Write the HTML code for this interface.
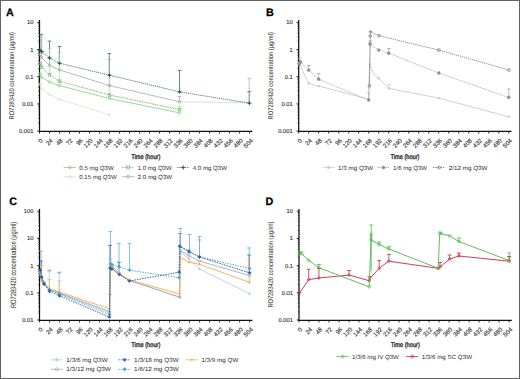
<!DOCTYPE html>
<html><head><meta charset="utf-8"><style>
html,body{margin:0;padding:0;background:#fff;}
body{width:520px;height:379px;overflow:hidden;font-family:"Liberation Sans", sans-serif;}
svg{display:block;text-rendering:geometricPrecision;}
</style></head><body>
<svg width="520" height="379" viewBox="0 0 520 379" font-family='"Liberation Sans", sans-serif'>
<rect x="0" y="0" width="520" height="379" fill="#fff"/>
<text x="6.0" y="16.0" font-size="10.8" font-weight="bold" fill="#000" stroke="#000" stroke-width="0.25">A</text>
<text x="266.0" y="16.0" font-size="10.8" font-weight="bold" fill="#000" stroke="#000" stroke-width="0.25">B</text>
<text x="9.2" y="204.9" font-size="10.8" font-weight="bold" fill="#000" stroke="#000" stroke-width="0.25">C</text>
<text x="265.6" y="204.9" font-size="10.8" font-weight="bold" fill="#000" stroke="#000" stroke-width="0.25">D</text>
<line x1="39.5" y1="20" x2="39.5" y2="131.7" stroke="#111" stroke-width="1.25"/>
<line x1="38.9" y1="131.4" x2="252.4" y2="131.4" stroke="#111" stroke-width="1.15"/>
<line x1="37.3" y1="22.3" x2="39.5" y2="22.3" stroke="#111" stroke-width="0.9"/>
<text x="33.5" y="24.3" font-size="5.8" text-anchor="end" fill="#383838" stroke="#383838" stroke-width="0.14">10</text>
<line x1="38.3" y1="41.31" x2="39.5" y2="41.31" stroke="#111" stroke-width="0.7"/>
<line x1="38.3" y1="36.52" x2="39.5" y2="36.52" stroke="#111" stroke-width="0.7"/>
<line x1="38.3" y1="33.12" x2="39.5" y2="33.12" stroke="#111" stroke-width="0.7"/>
<line x1="38.3" y1="30.49" x2="39.5" y2="30.49" stroke="#111" stroke-width="0.7"/>
<line x1="38.3" y1="28.33" x2="39.5" y2="28.33" stroke="#111" stroke-width="0.7"/>
<line x1="38.3" y1="26.51" x2="39.5" y2="26.51" stroke="#111" stroke-width="0.7"/>
<line x1="38.3" y1="24.94" x2="39.5" y2="24.94" stroke="#111" stroke-width="0.7"/>
<line x1="38.3" y1="23.54" x2="39.5" y2="23.54" stroke="#111" stroke-width="0.7"/>
<line x1="37.3" y1="49.5" x2="39.5" y2="49.5" stroke="#111" stroke-width="0.9"/>
<text x="33.5" y="51.5" font-size="5.8" text-anchor="end" fill="#383838" stroke="#383838" stroke-width="0.14">1</text>
<line x1="38.3" y1="68.51" x2="39.5" y2="68.51" stroke="#111" stroke-width="0.7"/>
<line x1="38.3" y1="63.72" x2="39.5" y2="63.72" stroke="#111" stroke-width="0.7"/>
<line x1="38.3" y1="60.32" x2="39.5" y2="60.32" stroke="#111" stroke-width="0.7"/>
<line x1="38.3" y1="57.69" x2="39.5" y2="57.69" stroke="#111" stroke-width="0.7"/>
<line x1="38.3" y1="55.53" x2="39.5" y2="55.53" stroke="#111" stroke-width="0.7"/>
<line x1="38.3" y1="53.71" x2="39.5" y2="53.71" stroke="#111" stroke-width="0.7"/>
<line x1="38.3" y1="52.14" x2="39.5" y2="52.14" stroke="#111" stroke-width="0.7"/>
<line x1="38.3" y1="50.74" x2="39.5" y2="50.74" stroke="#111" stroke-width="0.7"/>
<line x1="37.3" y1="76.7" x2="39.5" y2="76.7" stroke="#111" stroke-width="0.9"/>
<text x="33.5" y="78.7" font-size="5.8" text-anchor="end" fill="#383838" stroke="#383838" stroke-width="0.14">0.1</text>
<line x1="38.3" y1="95.71" x2="39.5" y2="95.71" stroke="#111" stroke-width="0.7"/>
<line x1="38.3" y1="90.92" x2="39.5" y2="90.92" stroke="#111" stroke-width="0.7"/>
<line x1="38.3" y1="87.52" x2="39.5" y2="87.52" stroke="#111" stroke-width="0.7"/>
<line x1="38.3" y1="84.89" x2="39.5" y2="84.89" stroke="#111" stroke-width="0.7"/>
<line x1="38.3" y1="82.73" x2="39.5" y2="82.73" stroke="#111" stroke-width="0.7"/>
<line x1="38.3" y1="80.91" x2="39.5" y2="80.91" stroke="#111" stroke-width="0.7"/>
<line x1="38.3" y1="79.34" x2="39.5" y2="79.34" stroke="#111" stroke-width="0.7"/>
<line x1="38.3" y1="77.94" x2="39.5" y2="77.94" stroke="#111" stroke-width="0.7"/>
<line x1="37.3" y1="103.9" x2="39.5" y2="103.9" stroke="#111" stroke-width="0.9"/>
<text x="33.5" y="105.9" font-size="5.8" text-anchor="end" fill="#383838" stroke="#383838" stroke-width="0.14">0.01</text>
<line x1="38.3" y1="122.91" x2="39.5" y2="122.91" stroke="#111" stroke-width="0.7"/>
<line x1="38.3" y1="118.12" x2="39.5" y2="118.12" stroke="#111" stroke-width="0.7"/>
<line x1="38.3" y1="114.72" x2="39.5" y2="114.72" stroke="#111" stroke-width="0.7"/>
<line x1="38.3" y1="112.09" x2="39.5" y2="112.09" stroke="#111" stroke-width="0.7"/>
<line x1="38.3" y1="109.93" x2="39.5" y2="109.93" stroke="#111" stroke-width="0.7"/>
<line x1="38.3" y1="108.11" x2="39.5" y2="108.11" stroke="#111" stroke-width="0.7"/>
<line x1="38.3" y1="106.54" x2="39.5" y2="106.54" stroke="#111" stroke-width="0.7"/>
<line x1="38.3" y1="105.14" x2="39.5" y2="105.14" stroke="#111" stroke-width="0.7"/>
<line x1="37.3" y1="131.1" x2="39.5" y2="131.1" stroke="#111" stroke-width="0.9"/>
<text x="33.5" y="133.1" font-size="5.8" text-anchor="end" fill="#383838" stroke="#383838" stroke-width="0.14">0.001</text>
<line x1="39.5" y1="131.1" x2="39.5" y2="133.5" stroke="#111" stroke-width="0.9"/>
<text x="43.2" y="141" font-size="6.1" text-anchor="end" fill="#383838" stroke="#383838" stroke-width="0.14" transform="rotate(-45 43.2 141)">0</text>
<line x1="44.5" y1="131.1" x2="44.5" y2="132.3" stroke="#111" stroke-width="0.7"/>
<line x1="49.5" y1="131.1" x2="49.5" y2="133.5" stroke="#111" stroke-width="0.9"/>
<text x="53.2" y="141" font-size="6.1" text-anchor="end" fill="#383838" stroke="#383838" stroke-width="0.14" transform="rotate(-45 53.2 141)">24</text>
<line x1="54.51" y1="131.1" x2="54.51" y2="132.3" stroke="#111" stroke-width="0.7"/>
<line x1="59.51" y1="131.1" x2="59.51" y2="133.5" stroke="#111" stroke-width="0.9"/>
<text x="63.21" y="141" font-size="6.1" text-anchor="end" fill="#383838" stroke="#383838" stroke-width="0.14" transform="rotate(-45 63.21 141)">48</text>
<line x1="64.51" y1="131.1" x2="64.51" y2="132.3" stroke="#111" stroke-width="0.7"/>
<line x1="69.51" y1="131.1" x2="69.51" y2="133.5" stroke="#111" stroke-width="0.9"/>
<text x="73.21" y="141" font-size="6.1" text-anchor="end" fill="#383838" stroke="#383838" stroke-width="0.14" transform="rotate(-45 73.21 141)">72</text>
<line x1="74.52" y1="131.1" x2="74.52" y2="132.3" stroke="#111" stroke-width="0.7"/>
<line x1="79.52" y1="131.1" x2="79.52" y2="133.5" stroke="#111" stroke-width="0.9"/>
<text x="83.22" y="141" font-size="6.1" text-anchor="end" fill="#383838" stroke="#383838" stroke-width="0.14" transform="rotate(-45 83.22 141)">96</text>
<line x1="84.52" y1="131.1" x2="84.52" y2="132.3" stroke="#111" stroke-width="0.7"/>
<line x1="89.52" y1="131.1" x2="89.52" y2="133.5" stroke="#111" stroke-width="0.9"/>
<text x="93.22" y="141" font-size="6.1" text-anchor="end" fill="#383838" stroke="#383838" stroke-width="0.14" transform="rotate(-45 93.22 141)">120</text>
<line x1="94.53" y1="131.1" x2="94.53" y2="132.3" stroke="#111" stroke-width="0.7"/>
<line x1="99.53" y1="131.1" x2="99.53" y2="133.5" stroke="#111" stroke-width="0.9"/>
<text x="103.23" y="141" font-size="6.1" text-anchor="end" fill="#383838" stroke="#383838" stroke-width="0.14" transform="rotate(-45 103.23 141)">144</text>
<line x1="104.53" y1="131.1" x2="104.53" y2="132.3" stroke="#111" stroke-width="0.7"/>
<line x1="109.53" y1="131.1" x2="109.53" y2="133.5" stroke="#111" stroke-width="0.9"/>
<text x="113.23" y="141" font-size="6.1" text-anchor="end" fill="#383838" stroke="#383838" stroke-width="0.14" transform="rotate(-45 113.23 141)">168</text>
<line x1="114.54" y1="131.1" x2="114.54" y2="132.3" stroke="#111" stroke-width="0.7"/>
<line x1="119.54" y1="131.1" x2="119.54" y2="133.5" stroke="#111" stroke-width="0.9"/>
<text x="123.24" y="141" font-size="6.1" text-anchor="end" fill="#383838" stroke="#383838" stroke-width="0.14" transform="rotate(-45 123.24 141)">192</text>
<line x1="124.54" y1="131.1" x2="124.54" y2="132.3" stroke="#111" stroke-width="0.7"/>
<line x1="129.54" y1="131.1" x2="129.54" y2="133.5" stroke="#111" stroke-width="0.9"/>
<text x="133.24" y="141" font-size="6.1" text-anchor="end" fill="#383838" stroke="#383838" stroke-width="0.14" transform="rotate(-45 133.24 141)">216</text>
<line x1="134.55" y1="131.1" x2="134.55" y2="132.3" stroke="#111" stroke-width="0.7"/>
<line x1="139.55" y1="131.1" x2="139.55" y2="133.5" stroke="#111" stroke-width="0.9"/>
<text x="143.25" y="141" font-size="6.1" text-anchor="end" fill="#383838" stroke="#383838" stroke-width="0.14" transform="rotate(-45 143.25 141)">240</text>
<line x1="144.55" y1="131.1" x2="144.55" y2="132.3" stroke="#111" stroke-width="0.7"/>
<line x1="149.55" y1="131.1" x2="149.55" y2="133.5" stroke="#111" stroke-width="0.9"/>
<text x="153.25" y="141" font-size="6.1" text-anchor="end" fill="#383838" stroke="#383838" stroke-width="0.14" transform="rotate(-45 153.25 141)">264</text>
<line x1="154.55" y1="131.1" x2="154.55" y2="132.3" stroke="#111" stroke-width="0.7"/>
<line x1="159.56" y1="131.1" x2="159.56" y2="133.5" stroke="#111" stroke-width="0.9"/>
<text x="163.26" y="141" font-size="6.1" text-anchor="end" fill="#383838" stroke="#383838" stroke-width="0.14" transform="rotate(-45 163.26 141)">288</text>
<line x1="164.56" y1="131.1" x2="164.56" y2="132.3" stroke="#111" stroke-width="0.7"/>
<line x1="169.56" y1="131.1" x2="169.56" y2="133.5" stroke="#111" stroke-width="0.9"/>
<text x="173.26" y="141" font-size="6.1" text-anchor="end" fill="#383838" stroke="#383838" stroke-width="0.14" transform="rotate(-45 173.26 141)">312</text>
<line x1="174.56" y1="131.1" x2="174.56" y2="132.3" stroke="#111" stroke-width="0.7"/>
<line x1="179.57" y1="131.1" x2="179.57" y2="133.5" stroke="#111" stroke-width="0.9"/>
<text x="183.27" y="141" font-size="6.1" text-anchor="end" fill="#383838" stroke="#383838" stroke-width="0.14" transform="rotate(-45 183.27 141)">336</text>
<line x1="184.57" y1="131.1" x2="184.57" y2="132.3" stroke="#111" stroke-width="0.7"/>
<line x1="189.57" y1="131.1" x2="189.57" y2="133.5" stroke="#111" stroke-width="0.9"/>
<text x="193.27" y="141" font-size="6.1" text-anchor="end" fill="#383838" stroke="#383838" stroke-width="0.14" transform="rotate(-45 193.27 141)">360</text>
<line x1="194.57" y1="131.1" x2="194.57" y2="132.3" stroke="#111" stroke-width="0.7"/>
<line x1="199.58" y1="131.1" x2="199.58" y2="133.5" stroke="#111" stroke-width="0.9"/>
<text x="203.28" y="141" font-size="6.1" text-anchor="end" fill="#383838" stroke="#383838" stroke-width="0.14" transform="rotate(-45 203.28 141)">384</text>
<line x1="204.58" y1="131.1" x2="204.58" y2="132.3" stroke="#111" stroke-width="0.7"/>
<line x1="209.58" y1="131.1" x2="209.58" y2="133.5" stroke="#111" stroke-width="0.9"/>
<text x="213.28" y="141" font-size="6.1" text-anchor="end" fill="#383838" stroke="#383838" stroke-width="0.14" transform="rotate(-45 213.28 141)">408</text>
<line x1="214.58" y1="131.1" x2="214.58" y2="132.3" stroke="#111" stroke-width="0.7"/>
<line x1="219.59" y1="131.1" x2="219.59" y2="133.5" stroke="#111" stroke-width="0.9"/>
<text x="223.29" y="141" font-size="6.1" text-anchor="end" fill="#383838" stroke="#383838" stroke-width="0.14" transform="rotate(-45 223.29 141)">432</text>
<line x1="224.59" y1="131.1" x2="224.59" y2="132.3" stroke="#111" stroke-width="0.7"/>
<line x1="229.59" y1="131.1" x2="229.59" y2="133.5" stroke="#111" stroke-width="0.9"/>
<text x="233.29" y="141" font-size="6.1" text-anchor="end" fill="#383838" stroke="#383838" stroke-width="0.14" transform="rotate(-45 233.29 141)">456</text>
<line x1="234.59" y1="131.1" x2="234.59" y2="132.3" stroke="#111" stroke-width="0.7"/>
<line x1="239.6" y1="131.1" x2="239.6" y2="133.5" stroke="#111" stroke-width="0.9"/>
<text x="243.3" y="141" font-size="6.1" text-anchor="end" fill="#383838" stroke="#383838" stroke-width="0.14" transform="rotate(-45 243.3 141)">480</text>
<line x1="244.6" y1="131.1" x2="244.6" y2="132.3" stroke="#111" stroke-width="0.7"/>
<line x1="249.6" y1="131.1" x2="249.6" y2="133.5" stroke="#111" stroke-width="0.9"/>
<text x="253.3" y="141" font-size="6.1" text-anchor="end" fill="#383838" stroke="#383838" stroke-width="0.14" transform="rotate(-45 253.3 141)">504</text>
<text x="131.3" y="158.5" font-size="6.8" fill="#222" stroke="#222" stroke-width="0.32" textLength="29.0" lengthAdjust="spacingAndGlyphs">Time (hour)</text>
<text x="13.7" y="119.5" font-size="6.9" fill="#222" textLength="87.4" lengthAdjust="spacingAndGlyphs" transform="rotate(-90 13.7 119.5)">RO7283420 concentration (μg/ml)</text>
<line x1="298.7" y1="20" x2="298.7" y2="131.7" stroke="#111" stroke-width="1.25"/>
<line x1="298.1" y1="131.4" x2="511.6" y2="131.4" stroke="#111" stroke-width="1.15"/>
<line x1="296.5" y1="22.3" x2="298.7" y2="22.3" stroke="#111" stroke-width="0.9"/>
<text x="292.7" y="24.3" font-size="5.8" text-anchor="end" fill="#383838" stroke="#383838" stroke-width="0.14">10</text>
<line x1="297.5" y1="41.31" x2="298.7" y2="41.31" stroke="#111" stroke-width="0.7"/>
<line x1="297.5" y1="36.52" x2="298.7" y2="36.52" stroke="#111" stroke-width="0.7"/>
<line x1="297.5" y1="33.12" x2="298.7" y2="33.12" stroke="#111" stroke-width="0.7"/>
<line x1="297.5" y1="30.49" x2="298.7" y2="30.49" stroke="#111" stroke-width="0.7"/>
<line x1="297.5" y1="28.33" x2="298.7" y2="28.33" stroke="#111" stroke-width="0.7"/>
<line x1="297.5" y1="26.51" x2="298.7" y2="26.51" stroke="#111" stroke-width="0.7"/>
<line x1="297.5" y1="24.94" x2="298.7" y2="24.94" stroke="#111" stroke-width="0.7"/>
<line x1="297.5" y1="23.54" x2="298.7" y2="23.54" stroke="#111" stroke-width="0.7"/>
<line x1="296.5" y1="49.5" x2="298.7" y2="49.5" stroke="#111" stroke-width="0.9"/>
<text x="292.7" y="51.5" font-size="5.8" text-anchor="end" fill="#383838" stroke="#383838" stroke-width="0.14">1</text>
<line x1="297.5" y1="68.51" x2="298.7" y2="68.51" stroke="#111" stroke-width="0.7"/>
<line x1="297.5" y1="63.72" x2="298.7" y2="63.72" stroke="#111" stroke-width="0.7"/>
<line x1="297.5" y1="60.32" x2="298.7" y2="60.32" stroke="#111" stroke-width="0.7"/>
<line x1="297.5" y1="57.69" x2="298.7" y2="57.69" stroke="#111" stroke-width="0.7"/>
<line x1="297.5" y1="55.53" x2="298.7" y2="55.53" stroke="#111" stroke-width="0.7"/>
<line x1="297.5" y1="53.71" x2="298.7" y2="53.71" stroke="#111" stroke-width="0.7"/>
<line x1="297.5" y1="52.14" x2="298.7" y2="52.14" stroke="#111" stroke-width="0.7"/>
<line x1="297.5" y1="50.74" x2="298.7" y2="50.74" stroke="#111" stroke-width="0.7"/>
<line x1="296.5" y1="76.7" x2="298.7" y2="76.7" stroke="#111" stroke-width="0.9"/>
<text x="292.7" y="78.7" font-size="5.8" text-anchor="end" fill="#383838" stroke="#383838" stroke-width="0.14">0.1</text>
<line x1="297.5" y1="95.71" x2="298.7" y2="95.71" stroke="#111" stroke-width="0.7"/>
<line x1="297.5" y1="90.92" x2="298.7" y2="90.92" stroke="#111" stroke-width="0.7"/>
<line x1="297.5" y1="87.52" x2="298.7" y2="87.52" stroke="#111" stroke-width="0.7"/>
<line x1="297.5" y1="84.89" x2="298.7" y2="84.89" stroke="#111" stroke-width="0.7"/>
<line x1="297.5" y1="82.73" x2="298.7" y2="82.73" stroke="#111" stroke-width="0.7"/>
<line x1="297.5" y1="80.91" x2="298.7" y2="80.91" stroke="#111" stroke-width="0.7"/>
<line x1="297.5" y1="79.34" x2="298.7" y2="79.34" stroke="#111" stroke-width="0.7"/>
<line x1="297.5" y1="77.94" x2="298.7" y2="77.94" stroke="#111" stroke-width="0.7"/>
<line x1="296.5" y1="103.9" x2="298.7" y2="103.9" stroke="#111" stroke-width="0.9"/>
<text x="292.7" y="105.9" font-size="5.8" text-anchor="end" fill="#383838" stroke="#383838" stroke-width="0.14">0.01</text>
<line x1="297.5" y1="122.91" x2="298.7" y2="122.91" stroke="#111" stroke-width="0.7"/>
<line x1="297.5" y1="118.12" x2="298.7" y2="118.12" stroke="#111" stroke-width="0.7"/>
<line x1="297.5" y1="114.72" x2="298.7" y2="114.72" stroke="#111" stroke-width="0.7"/>
<line x1="297.5" y1="112.09" x2="298.7" y2="112.09" stroke="#111" stroke-width="0.7"/>
<line x1="297.5" y1="109.93" x2="298.7" y2="109.93" stroke="#111" stroke-width="0.7"/>
<line x1="297.5" y1="108.11" x2="298.7" y2="108.11" stroke="#111" stroke-width="0.7"/>
<line x1="297.5" y1="106.54" x2="298.7" y2="106.54" stroke="#111" stroke-width="0.7"/>
<line x1="297.5" y1="105.14" x2="298.7" y2="105.14" stroke="#111" stroke-width="0.7"/>
<line x1="296.5" y1="131.1" x2="298.7" y2="131.1" stroke="#111" stroke-width="0.9"/>
<text x="292.7" y="133.1" font-size="5.8" text-anchor="end" fill="#383838" stroke="#383838" stroke-width="0.14">0.001</text>
<line x1="298.7" y1="131.1" x2="298.7" y2="133.5" stroke="#111" stroke-width="0.9"/>
<text x="302.4" y="141" font-size="6.1" text-anchor="end" fill="#383838" stroke="#383838" stroke-width="0.14" transform="rotate(-45 302.4 141)">0</text>
<line x1="303.7" y1="131.1" x2="303.7" y2="132.3" stroke="#111" stroke-width="0.7"/>
<line x1="308.7" y1="131.1" x2="308.7" y2="133.5" stroke="#111" stroke-width="0.9"/>
<text x="312.4" y="141" font-size="6.1" text-anchor="end" fill="#383838" stroke="#383838" stroke-width="0.14" transform="rotate(-45 312.4 141)">24</text>
<line x1="313.71" y1="131.1" x2="313.71" y2="132.3" stroke="#111" stroke-width="0.7"/>
<line x1="318.71" y1="131.1" x2="318.71" y2="133.5" stroke="#111" stroke-width="0.9"/>
<text x="322.41" y="141" font-size="6.1" text-anchor="end" fill="#383838" stroke="#383838" stroke-width="0.14" transform="rotate(-45 322.41 141)">48</text>
<line x1="323.71" y1="131.1" x2="323.71" y2="132.3" stroke="#111" stroke-width="0.7"/>
<line x1="328.71" y1="131.1" x2="328.71" y2="133.5" stroke="#111" stroke-width="0.9"/>
<text x="332.41" y="141" font-size="6.1" text-anchor="end" fill="#383838" stroke="#383838" stroke-width="0.14" transform="rotate(-45 332.41 141)">72</text>
<line x1="333.72" y1="131.1" x2="333.72" y2="132.3" stroke="#111" stroke-width="0.7"/>
<line x1="338.72" y1="131.1" x2="338.72" y2="133.5" stroke="#111" stroke-width="0.9"/>
<text x="342.42" y="141" font-size="6.1" text-anchor="end" fill="#383838" stroke="#383838" stroke-width="0.14" transform="rotate(-45 342.42 141)">96</text>
<line x1="343.72" y1="131.1" x2="343.72" y2="132.3" stroke="#111" stroke-width="0.7"/>
<line x1="348.72" y1="131.1" x2="348.72" y2="133.5" stroke="#111" stroke-width="0.9"/>
<text x="352.42" y="141" font-size="6.1" text-anchor="end" fill="#383838" stroke="#383838" stroke-width="0.14" transform="rotate(-45 352.42 141)">120</text>
<line x1="353.73" y1="131.1" x2="353.73" y2="132.3" stroke="#111" stroke-width="0.7"/>
<line x1="358.73" y1="131.1" x2="358.73" y2="133.5" stroke="#111" stroke-width="0.9"/>
<text x="362.43" y="141" font-size="6.1" text-anchor="end" fill="#383838" stroke="#383838" stroke-width="0.14" transform="rotate(-45 362.43 141)">144</text>
<line x1="363.73" y1="131.1" x2="363.73" y2="132.3" stroke="#111" stroke-width="0.7"/>
<line x1="368.73" y1="131.1" x2="368.73" y2="133.5" stroke="#111" stroke-width="0.9"/>
<text x="372.43" y="141" font-size="6.1" text-anchor="end" fill="#383838" stroke="#383838" stroke-width="0.14" transform="rotate(-45 372.43 141)">168</text>
<line x1="373.74" y1="131.1" x2="373.74" y2="132.3" stroke="#111" stroke-width="0.7"/>
<line x1="378.74" y1="131.1" x2="378.74" y2="133.5" stroke="#111" stroke-width="0.9"/>
<text x="382.44" y="141" font-size="6.1" text-anchor="end" fill="#383838" stroke="#383838" stroke-width="0.14" transform="rotate(-45 382.44 141)">192</text>
<line x1="383.74" y1="131.1" x2="383.74" y2="132.3" stroke="#111" stroke-width="0.7"/>
<line x1="388.74" y1="131.1" x2="388.74" y2="133.5" stroke="#111" stroke-width="0.9"/>
<text x="392.44" y="141" font-size="6.1" text-anchor="end" fill="#383838" stroke="#383838" stroke-width="0.14" transform="rotate(-45 392.44 141)">216</text>
<line x1="393.75" y1="131.1" x2="393.75" y2="132.3" stroke="#111" stroke-width="0.7"/>
<line x1="398.75" y1="131.1" x2="398.75" y2="133.5" stroke="#111" stroke-width="0.9"/>
<text x="402.45" y="141" font-size="6.1" text-anchor="end" fill="#383838" stroke="#383838" stroke-width="0.14" transform="rotate(-45 402.45 141)">240</text>
<line x1="403.75" y1="131.1" x2="403.75" y2="132.3" stroke="#111" stroke-width="0.7"/>
<line x1="408.75" y1="131.1" x2="408.75" y2="133.5" stroke="#111" stroke-width="0.9"/>
<text x="412.45" y="141" font-size="6.1" text-anchor="end" fill="#383838" stroke="#383838" stroke-width="0.14" transform="rotate(-45 412.45 141)">264</text>
<line x1="413.75" y1="131.1" x2="413.75" y2="132.3" stroke="#111" stroke-width="0.7"/>
<line x1="418.76" y1="131.1" x2="418.76" y2="133.5" stroke="#111" stroke-width="0.9"/>
<text x="422.46" y="141" font-size="6.1" text-anchor="end" fill="#383838" stroke="#383838" stroke-width="0.14" transform="rotate(-45 422.46 141)">288</text>
<line x1="423.76" y1="131.1" x2="423.76" y2="132.3" stroke="#111" stroke-width="0.7"/>
<line x1="428.76" y1="131.1" x2="428.76" y2="133.5" stroke="#111" stroke-width="0.9"/>
<text x="432.46" y="141" font-size="6.1" text-anchor="end" fill="#383838" stroke="#383838" stroke-width="0.14" transform="rotate(-45 432.46 141)">312</text>
<line x1="433.76" y1="131.1" x2="433.76" y2="132.3" stroke="#111" stroke-width="0.7"/>
<line x1="438.77" y1="131.1" x2="438.77" y2="133.5" stroke="#111" stroke-width="0.9"/>
<text x="442.47" y="141" font-size="6.1" text-anchor="end" fill="#383838" stroke="#383838" stroke-width="0.14" transform="rotate(-45 442.47 141)">336</text>
<line x1="443.77" y1="131.1" x2="443.77" y2="132.3" stroke="#111" stroke-width="0.7"/>
<line x1="448.77" y1="131.1" x2="448.77" y2="133.5" stroke="#111" stroke-width="0.9"/>
<text x="452.47" y="141" font-size="6.1" text-anchor="end" fill="#383838" stroke="#383838" stroke-width="0.14" transform="rotate(-45 452.47 141)">360</text>
<line x1="453.77" y1="131.1" x2="453.77" y2="132.3" stroke="#111" stroke-width="0.7"/>
<line x1="458.78" y1="131.1" x2="458.78" y2="133.5" stroke="#111" stroke-width="0.9"/>
<text x="462.48" y="141" font-size="6.1" text-anchor="end" fill="#383838" stroke="#383838" stroke-width="0.14" transform="rotate(-45 462.48 141)">384</text>
<line x1="463.78" y1="131.1" x2="463.78" y2="132.3" stroke="#111" stroke-width="0.7"/>
<line x1="468.78" y1="131.1" x2="468.78" y2="133.5" stroke="#111" stroke-width="0.9"/>
<text x="472.48" y="141" font-size="6.1" text-anchor="end" fill="#383838" stroke="#383838" stroke-width="0.14" transform="rotate(-45 472.48 141)">408</text>
<line x1="473.78" y1="131.1" x2="473.78" y2="132.3" stroke="#111" stroke-width="0.7"/>
<line x1="478.79" y1="131.1" x2="478.79" y2="133.5" stroke="#111" stroke-width="0.9"/>
<text x="482.49" y="141" font-size="6.1" text-anchor="end" fill="#383838" stroke="#383838" stroke-width="0.14" transform="rotate(-45 482.49 141)">432</text>
<line x1="483.79" y1="131.1" x2="483.79" y2="132.3" stroke="#111" stroke-width="0.7"/>
<line x1="488.79" y1="131.1" x2="488.79" y2="133.5" stroke="#111" stroke-width="0.9"/>
<text x="492.49" y="141" font-size="6.1" text-anchor="end" fill="#383838" stroke="#383838" stroke-width="0.14" transform="rotate(-45 492.49 141)">456</text>
<line x1="493.79" y1="131.1" x2="493.79" y2="132.3" stroke="#111" stroke-width="0.7"/>
<line x1="498.8" y1="131.1" x2="498.8" y2="133.5" stroke="#111" stroke-width="0.9"/>
<text x="502.5" y="141" font-size="6.1" text-anchor="end" fill="#383838" stroke="#383838" stroke-width="0.14" transform="rotate(-45 502.5 141)">480</text>
<line x1="503.8" y1="131.1" x2="503.8" y2="132.3" stroke="#111" stroke-width="0.7"/>
<line x1="508.8" y1="131.1" x2="508.8" y2="133.5" stroke="#111" stroke-width="0.9"/>
<text x="512.5" y="141" font-size="6.1" text-anchor="end" fill="#383838" stroke="#383838" stroke-width="0.14" transform="rotate(-45 512.5 141)">504</text>
<text x="390.5" y="158.5" font-size="6.8" fill="#222" stroke="#222" stroke-width="0.32" textLength="29.0" lengthAdjust="spacingAndGlyphs">Time (hour)</text>
<text x="272.9" y="119.5" font-size="6.9" fill="#222" textLength="87.4" lengthAdjust="spacingAndGlyphs" transform="rotate(-90 272.9 119.5)">RO7283420 concentration (μg/ml)</text>
<line x1="39.5" y1="208.9" x2="39.5" y2="320.6" stroke="#111" stroke-width="1.25"/>
<line x1="38.9" y1="320.3" x2="252.4" y2="320.3" stroke="#111" stroke-width="1.15"/>
<line x1="37.3" y1="211.2" x2="39.5" y2="211.2" stroke="#111" stroke-width="0.9"/>
<text x="33.5" y="213.2" font-size="5.8" text-anchor="end" fill="#383838" stroke="#383838" stroke-width="0.14">100</text>
<line x1="38.3" y1="230.21" x2="39.5" y2="230.21" stroke="#111" stroke-width="0.7"/>
<line x1="38.3" y1="225.42" x2="39.5" y2="225.42" stroke="#111" stroke-width="0.7"/>
<line x1="38.3" y1="222.02" x2="39.5" y2="222.02" stroke="#111" stroke-width="0.7"/>
<line x1="38.3" y1="219.39" x2="39.5" y2="219.39" stroke="#111" stroke-width="0.7"/>
<line x1="38.3" y1="217.23" x2="39.5" y2="217.23" stroke="#111" stroke-width="0.7"/>
<line x1="38.3" y1="215.41" x2="39.5" y2="215.41" stroke="#111" stroke-width="0.7"/>
<line x1="38.3" y1="213.84" x2="39.5" y2="213.84" stroke="#111" stroke-width="0.7"/>
<line x1="38.3" y1="212.44" x2="39.5" y2="212.44" stroke="#111" stroke-width="0.7"/>
<line x1="37.3" y1="238.4" x2="39.5" y2="238.4" stroke="#111" stroke-width="0.9"/>
<text x="33.5" y="240.4" font-size="5.8" text-anchor="end" fill="#383838" stroke="#383838" stroke-width="0.14">10</text>
<line x1="38.3" y1="257.41" x2="39.5" y2="257.41" stroke="#111" stroke-width="0.7"/>
<line x1="38.3" y1="252.62" x2="39.5" y2="252.62" stroke="#111" stroke-width="0.7"/>
<line x1="38.3" y1="249.22" x2="39.5" y2="249.22" stroke="#111" stroke-width="0.7"/>
<line x1="38.3" y1="246.59" x2="39.5" y2="246.59" stroke="#111" stroke-width="0.7"/>
<line x1="38.3" y1="244.43" x2="39.5" y2="244.43" stroke="#111" stroke-width="0.7"/>
<line x1="38.3" y1="242.61" x2="39.5" y2="242.61" stroke="#111" stroke-width="0.7"/>
<line x1="38.3" y1="241.04" x2="39.5" y2="241.04" stroke="#111" stroke-width="0.7"/>
<line x1="38.3" y1="239.64" x2="39.5" y2="239.64" stroke="#111" stroke-width="0.7"/>
<line x1="37.3" y1="265.6" x2="39.5" y2="265.6" stroke="#111" stroke-width="0.9"/>
<text x="33.5" y="267.6" font-size="5.8" text-anchor="end" fill="#383838" stroke="#383838" stroke-width="0.14">1</text>
<line x1="38.3" y1="284.61" x2="39.5" y2="284.61" stroke="#111" stroke-width="0.7"/>
<line x1="38.3" y1="279.82" x2="39.5" y2="279.82" stroke="#111" stroke-width="0.7"/>
<line x1="38.3" y1="276.42" x2="39.5" y2="276.42" stroke="#111" stroke-width="0.7"/>
<line x1="38.3" y1="273.79" x2="39.5" y2="273.79" stroke="#111" stroke-width="0.7"/>
<line x1="38.3" y1="271.63" x2="39.5" y2="271.63" stroke="#111" stroke-width="0.7"/>
<line x1="38.3" y1="269.81" x2="39.5" y2="269.81" stroke="#111" stroke-width="0.7"/>
<line x1="38.3" y1="268.24" x2="39.5" y2="268.24" stroke="#111" stroke-width="0.7"/>
<line x1="38.3" y1="266.84" x2="39.5" y2="266.84" stroke="#111" stroke-width="0.7"/>
<line x1="37.3" y1="292.8" x2="39.5" y2="292.8" stroke="#111" stroke-width="0.9"/>
<text x="33.5" y="294.8" font-size="5.8" text-anchor="end" fill="#383838" stroke="#383838" stroke-width="0.14">0.1</text>
<line x1="38.3" y1="311.81" x2="39.5" y2="311.81" stroke="#111" stroke-width="0.7"/>
<line x1="38.3" y1="307.02" x2="39.5" y2="307.02" stroke="#111" stroke-width="0.7"/>
<line x1="38.3" y1="303.62" x2="39.5" y2="303.62" stroke="#111" stroke-width="0.7"/>
<line x1="38.3" y1="300.99" x2="39.5" y2="300.99" stroke="#111" stroke-width="0.7"/>
<line x1="38.3" y1="298.83" x2="39.5" y2="298.83" stroke="#111" stroke-width="0.7"/>
<line x1="38.3" y1="297.01" x2="39.5" y2="297.01" stroke="#111" stroke-width="0.7"/>
<line x1="38.3" y1="295.44" x2="39.5" y2="295.44" stroke="#111" stroke-width="0.7"/>
<line x1="38.3" y1="294.04" x2="39.5" y2="294.04" stroke="#111" stroke-width="0.7"/>
<line x1="37.3" y1="320" x2="39.5" y2="320" stroke="#111" stroke-width="0.9"/>
<text x="33.5" y="322" font-size="5.8" text-anchor="end" fill="#383838" stroke="#383838" stroke-width="0.14">0.01</text>
<line x1="39.5" y1="320" x2="39.5" y2="322.4" stroke="#111" stroke-width="0.9"/>
<text x="43.2" y="329.9" font-size="6.1" text-anchor="end" fill="#383838" stroke="#383838" stroke-width="0.14" transform="rotate(-45 43.2 329.9)">0</text>
<line x1="44.5" y1="320" x2="44.5" y2="321.2" stroke="#111" stroke-width="0.7"/>
<line x1="49.5" y1="320" x2="49.5" y2="322.4" stroke="#111" stroke-width="0.9"/>
<text x="53.2" y="329.9" font-size="6.1" text-anchor="end" fill="#383838" stroke="#383838" stroke-width="0.14" transform="rotate(-45 53.2 329.9)">24</text>
<line x1="54.51" y1="320" x2="54.51" y2="321.2" stroke="#111" stroke-width="0.7"/>
<line x1="59.51" y1="320" x2="59.51" y2="322.4" stroke="#111" stroke-width="0.9"/>
<text x="63.21" y="329.9" font-size="6.1" text-anchor="end" fill="#383838" stroke="#383838" stroke-width="0.14" transform="rotate(-45 63.21 329.9)">48</text>
<line x1="64.51" y1="320" x2="64.51" y2="321.2" stroke="#111" stroke-width="0.7"/>
<line x1="69.51" y1="320" x2="69.51" y2="322.4" stroke="#111" stroke-width="0.9"/>
<text x="73.21" y="329.9" font-size="6.1" text-anchor="end" fill="#383838" stroke="#383838" stroke-width="0.14" transform="rotate(-45 73.21 329.9)">72</text>
<line x1="74.52" y1="320" x2="74.52" y2="321.2" stroke="#111" stroke-width="0.7"/>
<line x1="79.52" y1="320" x2="79.52" y2="322.4" stroke="#111" stroke-width="0.9"/>
<text x="83.22" y="329.9" font-size="6.1" text-anchor="end" fill="#383838" stroke="#383838" stroke-width="0.14" transform="rotate(-45 83.22 329.9)">96</text>
<line x1="84.52" y1="320" x2="84.52" y2="321.2" stroke="#111" stroke-width="0.7"/>
<line x1="89.52" y1="320" x2="89.52" y2="322.4" stroke="#111" stroke-width="0.9"/>
<text x="93.22" y="329.9" font-size="6.1" text-anchor="end" fill="#383838" stroke="#383838" stroke-width="0.14" transform="rotate(-45 93.22 329.9)">120</text>
<line x1="94.53" y1="320" x2="94.53" y2="321.2" stroke="#111" stroke-width="0.7"/>
<line x1="99.53" y1="320" x2="99.53" y2="322.4" stroke="#111" stroke-width="0.9"/>
<text x="103.23" y="329.9" font-size="6.1" text-anchor="end" fill="#383838" stroke="#383838" stroke-width="0.14" transform="rotate(-45 103.23 329.9)">144</text>
<line x1="104.53" y1="320" x2="104.53" y2="321.2" stroke="#111" stroke-width="0.7"/>
<line x1="109.53" y1="320" x2="109.53" y2="322.4" stroke="#111" stroke-width="0.9"/>
<text x="113.23" y="329.9" font-size="6.1" text-anchor="end" fill="#383838" stroke="#383838" stroke-width="0.14" transform="rotate(-45 113.23 329.9)">168</text>
<line x1="114.54" y1="320" x2="114.54" y2="321.2" stroke="#111" stroke-width="0.7"/>
<line x1="119.54" y1="320" x2="119.54" y2="322.4" stroke="#111" stroke-width="0.9"/>
<text x="123.24" y="329.9" font-size="6.1" text-anchor="end" fill="#383838" stroke="#383838" stroke-width="0.14" transform="rotate(-45 123.24 329.9)">192</text>
<line x1="124.54" y1="320" x2="124.54" y2="321.2" stroke="#111" stroke-width="0.7"/>
<line x1="129.54" y1="320" x2="129.54" y2="322.4" stroke="#111" stroke-width="0.9"/>
<text x="133.24" y="329.9" font-size="6.1" text-anchor="end" fill="#383838" stroke="#383838" stroke-width="0.14" transform="rotate(-45 133.24 329.9)">216</text>
<line x1="134.55" y1="320" x2="134.55" y2="321.2" stroke="#111" stroke-width="0.7"/>
<line x1="139.55" y1="320" x2="139.55" y2="322.4" stroke="#111" stroke-width="0.9"/>
<text x="143.25" y="329.9" font-size="6.1" text-anchor="end" fill="#383838" stroke="#383838" stroke-width="0.14" transform="rotate(-45 143.25 329.9)">240</text>
<line x1="144.55" y1="320" x2="144.55" y2="321.2" stroke="#111" stroke-width="0.7"/>
<line x1="149.55" y1="320" x2="149.55" y2="322.4" stroke="#111" stroke-width="0.9"/>
<text x="153.25" y="329.9" font-size="6.1" text-anchor="end" fill="#383838" stroke="#383838" stroke-width="0.14" transform="rotate(-45 153.25 329.9)">264</text>
<line x1="154.55" y1="320" x2="154.55" y2="321.2" stroke="#111" stroke-width="0.7"/>
<line x1="159.56" y1="320" x2="159.56" y2="322.4" stroke="#111" stroke-width="0.9"/>
<text x="163.26" y="329.9" font-size="6.1" text-anchor="end" fill="#383838" stroke="#383838" stroke-width="0.14" transform="rotate(-45 163.26 329.9)">288</text>
<line x1="164.56" y1="320" x2="164.56" y2="321.2" stroke="#111" stroke-width="0.7"/>
<line x1="169.56" y1="320" x2="169.56" y2="322.4" stroke="#111" stroke-width="0.9"/>
<text x="173.26" y="329.9" font-size="6.1" text-anchor="end" fill="#383838" stroke="#383838" stroke-width="0.14" transform="rotate(-45 173.26 329.9)">312</text>
<line x1="174.56" y1="320" x2="174.56" y2="321.2" stroke="#111" stroke-width="0.7"/>
<line x1="179.57" y1="320" x2="179.57" y2="322.4" stroke="#111" stroke-width="0.9"/>
<text x="183.27" y="329.9" font-size="6.1" text-anchor="end" fill="#383838" stroke="#383838" stroke-width="0.14" transform="rotate(-45 183.27 329.9)">336</text>
<line x1="184.57" y1="320" x2="184.57" y2="321.2" stroke="#111" stroke-width="0.7"/>
<line x1="189.57" y1="320" x2="189.57" y2="322.4" stroke="#111" stroke-width="0.9"/>
<text x="193.27" y="329.9" font-size="6.1" text-anchor="end" fill="#383838" stroke="#383838" stroke-width="0.14" transform="rotate(-45 193.27 329.9)">360</text>
<line x1="194.57" y1="320" x2="194.57" y2="321.2" stroke="#111" stroke-width="0.7"/>
<line x1="199.58" y1="320" x2="199.58" y2="322.4" stroke="#111" stroke-width="0.9"/>
<text x="203.28" y="329.9" font-size="6.1" text-anchor="end" fill="#383838" stroke="#383838" stroke-width="0.14" transform="rotate(-45 203.28 329.9)">384</text>
<line x1="204.58" y1="320" x2="204.58" y2="321.2" stroke="#111" stroke-width="0.7"/>
<line x1="209.58" y1="320" x2="209.58" y2="322.4" stroke="#111" stroke-width="0.9"/>
<text x="213.28" y="329.9" font-size="6.1" text-anchor="end" fill="#383838" stroke="#383838" stroke-width="0.14" transform="rotate(-45 213.28 329.9)">408</text>
<line x1="214.58" y1="320" x2="214.58" y2="321.2" stroke="#111" stroke-width="0.7"/>
<line x1="219.59" y1="320" x2="219.59" y2="322.4" stroke="#111" stroke-width="0.9"/>
<text x="223.29" y="329.9" font-size="6.1" text-anchor="end" fill="#383838" stroke="#383838" stroke-width="0.14" transform="rotate(-45 223.29 329.9)">432</text>
<line x1="224.59" y1="320" x2="224.59" y2="321.2" stroke="#111" stroke-width="0.7"/>
<line x1="229.59" y1="320" x2="229.59" y2="322.4" stroke="#111" stroke-width="0.9"/>
<text x="233.29" y="329.9" font-size="6.1" text-anchor="end" fill="#383838" stroke="#383838" stroke-width="0.14" transform="rotate(-45 233.29 329.9)">456</text>
<line x1="234.59" y1="320" x2="234.59" y2="321.2" stroke="#111" stroke-width="0.7"/>
<line x1="239.6" y1="320" x2="239.6" y2="322.4" stroke="#111" stroke-width="0.9"/>
<text x="243.3" y="329.9" font-size="6.1" text-anchor="end" fill="#383838" stroke="#383838" stroke-width="0.14" transform="rotate(-45 243.3 329.9)">480</text>
<line x1="244.6" y1="320" x2="244.6" y2="321.2" stroke="#111" stroke-width="0.7"/>
<line x1="249.6" y1="320" x2="249.6" y2="322.4" stroke="#111" stroke-width="0.9"/>
<text x="253.3" y="329.9" font-size="6.1" text-anchor="end" fill="#383838" stroke="#383838" stroke-width="0.14" transform="rotate(-45 253.3 329.9)">504</text>
<text x="131.3" y="347.4" font-size="6.8" fill="#222" stroke="#222" stroke-width="0.32" textLength="29.0" lengthAdjust="spacingAndGlyphs">Time (hour)</text>
<text x="16.3" y="308" font-size="7.8" fill="#222" textLength="86.2" lengthAdjust="spacingAndGlyphs" transform="rotate(-90 16.3 308)">RO7283420 concentration (μg/ml)</text>
<line x1="299" y1="208.9" x2="299" y2="320.6" stroke="#111" stroke-width="1.25"/>
<line x1="298.4" y1="320.3" x2="511.9" y2="320.3" stroke="#111" stroke-width="1.15"/>
<line x1="296.8" y1="211.2" x2="299" y2="211.2" stroke="#111" stroke-width="0.9"/>
<text x="293" y="213.2" font-size="5.8" text-anchor="end" fill="#383838" stroke="#383838" stroke-width="0.14">10</text>
<line x1="297.8" y1="230.21" x2="299" y2="230.21" stroke="#111" stroke-width="0.7"/>
<line x1="297.8" y1="225.42" x2="299" y2="225.42" stroke="#111" stroke-width="0.7"/>
<line x1="297.8" y1="222.02" x2="299" y2="222.02" stroke="#111" stroke-width="0.7"/>
<line x1="297.8" y1="219.39" x2="299" y2="219.39" stroke="#111" stroke-width="0.7"/>
<line x1="297.8" y1="217.23" x2="299" y2="217.23" stroke="#111" stroke-width="0.7"/>
<line x1="297.8" y1="215.41" x2="299" y2="215.41" stroke="#111" stroke-width="0.7"/>
<line x1="297.8" y1="213.84" x2="299" y2="213.84" stroke="#111" stroke-width="0.7"/>
<line x1="297.8" y1="212.44" x2="299" y2="212.44" stroke="#111" stroke-width="0.7"/>
<line x1="296.8" y1="238.4" x2="299" y2="238.4" stroke="#111" stroke-width="0.9"/>
<text x="293" y="240.4" font-size="5.8" text-anchor="end" fill="#383838" stroke="#383838" stroke-width="0.14">1</text>
<line x1="297.8" y1="257.41" x2="299" y2="257.41" stroke="#111" stroke-width="0.7"/>
<line x1="297.8" y1="252.62" x2="299" y2="252.62" stroke="#111" stroke-width="0.7"/>
<line x1="297.8" y1="249.22" x2="299" y2="249.22" stroke="#111" stroke-width="0.7"/>
<line x1="297.8" y1="246.59" x2="299" y2="246.59" stroke="#111" stroke-width="0.7"/>
<line x1="297.8" y1="244.43" x2="299" y2="244.43" stroke="#111" stroke-width="0.7"/>
<line x1="297.8" y1="242.61" x2="299" y2="242.61" stroke="#111" stroke-width="0.7"/>
<line x1="297.8" y1="241.04" x2="299" y2="241.04" stroke="#111" stroke-width="0.7"/>
<line x1="297.8" y1="239.64" x2="299" y2="239.64" stroke="#111" stroke-width="0.7"/>
<line x1="296.8" y1="265.6" x2="299" y2="265.6" stroke="#111" stroke-width="0.9"/>
<text x="293" y="267.6" font-size="5.8" text-anchor="end" fill="#383838" stroke="#383838" stroke-width="0.14">0.1</text>
<line x1="297.8" y1="284.61" x2="299" y2="284.61" stroke="#111" stroke-width="0.7"/>
<line x1="297.8" y1="279.82" x2="299" y2="279.82" stroke="#111" stroke-width="0.7"/>
<line x1="297.8" y1="276.42" x2="299" y2="276.42" stroke="#111" stroke-width="0.7"/>
<line x1="297.8" y1="273.79" x2="299" y2="273.79" stroke="#111" stroke-width="0.7"/>
<line x1="297.8" y1="271.63" x2="299" y2="271.63" stroke="#111" stroke-width="0.7"/>
<line x1="297.8" y1="269.81" x2="299" y2="269.81" stroke="#111" stroke-width="0.7"/>
<line x1="297.8" y1="268.24" x2="299" y2="268.24" stroke="#111" stroke-width="0.7"/>
<line x1="297.8" y1="266.84" x2="299" y2="266.84" stroke="#111" stroke-width="0.7"/>
<line x1="296.8" y1="292.8" x2="299" y2="292.8" stroke="#111" stroke-width="0.9"/>
<text x="293" y="294.8" font-size="5.8" text-anchor="end" fill="#383838" stroke="#383838" stroke-width="0.14">0.01</text>
<line x1="297.8" y1="311.81" x2="299" y2="311.81" stroke="#111" stroke-width="0.7"/>
<line x1="297.8" y1="307.02" x2="299" y2="307.02" stroke="#111" stroke-width="0.7"/>
<line x1="297.8" y1="303.62" x2="299" y2="303.62" stroke="#111" stroke-width="0.7"/>
<line x1="297.8" y1="300.99" x2="299" y2="300.99" stroke="#111" stroke-width="0.7"/>
<line x1="297.8" y1="298.83" x2="299" y2="298.83" stroke="#111" stroke-width="0.7"/>
<line x1="297.8" y1="297.01" x2="299" y2="297.01" stroke="#111" stroke-width="0.7"/>
<line x1="297.8" y1="295.44" x2="299" y2="295.44" stroke="#111" stroke-width="0.7"/>
<line x1="297.8" y1="294.04" x2="299" y2="294.04" stroke="#111" stroke-width="0.7"/>
<line x1="296.8" y1="320" x2="299" y2="320" stroke="#111" stroke-width="0.9"/>
<text x="293" y="322" font-size="5.8" text-anchor="end" fill="#383838" stroke="#383838" stroke-width="0.14">0.001</text>
<line x1="299" y1="320" x2="299" y2="322.4" stroke="#111" stroke-width="0.9"/>
<text x="302.7" y="329.9" font-size="6.1" text-anchor="end" fill="#383838" stroke="#383838" stroke-width="0.14" transform="rotate(-45 302.7 329.9)">0</text>
<line x1="304" y1="320" x2="304" y2="321.2" stroke="#111" stroke-width="0.7"/>
<line x1="309" y1="320" x2="309" y2="322.4" stroke="#111" stroke-width="0.9"/>
<text x="312.7" y="329.9" font-size="6.1" text-anchor="end" fill="#383838" stroke="#383838" stroke-width="0.14" transform="rotate(-45 312.7 329.9)">24</text>
<line x1="314.01" y1="320" x2="314.01" y2="321.2" stroke="#111" stroke-width="0.7"/>
<line x1="319.01" y1="320" x2="319.01" y2="322.4" stroke="#111" stroke-width="0.9"/>
<text x="322.71" y="329.9" font-size="6.1" text-anchor="end" fill="#383838" stroke="#383838" stroke-width="0.14" transform="rotate(-45 322.71 329.9)">48</text>
<line x1="324.01" y1="320" x2="324.01" y2="321.2" stroke="#111" stroke-width="0.7"/>
<line x1="329.01" y1="320" x2="329.01" y2="322.4" stroke="#111" stroke-width="0.9"/>
<text x="332.71" y="329.9" font-size="6.1" text-anchor="end" fill="#383838" stroke="#383838" stroke-width="0.14" transform="rotate(-45 332.71 329.9)">72</text>
<line x1="334.02" y1="320" x2="334.02" y2="321.2" stroke="#111" stroke-width="0.7"/>
<line x1="339.02" y1="320" x2="339.02" y2="322.4" stroke="#111" stroke-width="0.9"/>
<text x="342.72" y="329.9" font-size="6.1" text-anchor="end" fill="#383838" stroke="#383838" stroke-width="0.14" transform="rotate(-45 342.72 329.9)">96</text>
<line x1="344.02" y1="320" x2="344.02" y2="321.2" stroke="#111" stroke-width="0.7"/>
<line x1="349.02" y1="320" x2="349.02" y2="322.4" stroke="#111" stroke-width="0.9"/>
<text x="352.72" y="329.9" font-size="6.1" text-anchor="end" fill="#383838" stroke="#383838" stroke-width="0.14" transform="rotate(-45 352.72 329.9)">120</text>
<line x1="354.03" y1="320" x2="354.03" y2="321.2" stroke="#111" stroke-width="0.7"/>
<line x1="359.03" y1="320" x2="359.03" y2="322.4" stroke="#111" stroke-width="0.9"/>
<text x="362.73" y="329.9" font-size="6.1" text-anchor="end" fill="#383838" stroke="#383838" stroke-width="0.14" transform="rotate(-45 362.73 329.9)">144</text>
<line x1="364.03" y1="320" x2="364.03" y2="321.2" stroke="#111" stroke-width="0.7"/>
<line x1="369.03" y1="320" x2="369.03" y2="322.4" stroke="#111" stroke-width="0.9"/>
<text x="372.73" y="329.9" font-size="6.1" text-anchor="end" fill="#383838" stroke="#383838" stroke-width="0.14" transform="rotate(-45 372.73 329.9)">168</text>
<line x1="374.04" y1="320" x2="374.04" y2="321.2" stroke="#111" stroke-width="0.7"/>
<line x1="379.04" y1="320" x2="379.04" y2="322.4" stroke="#111" stroke-width="0.9"/>
<text x="382.74" y="329.9" font-size="6.1" text-anchor="end" fill="#383838" stroke="#383838" stroke-width="0.14" transform="rotate(-45 382.74 329.9)">192</text>
<line x1="384.04" y1="320" x2="384.04" y2="321.2" stroke="#111" stroke-width="0.7"/>
<line x1="389.04" y1="320" x2="389.04" y2="322.4" stroke="#111" stroke-width="0.9"/>
<text x="392.74" y="329.9" font-size="6.1" text-anchor="end" fill="#383838" stroke="#383838" stroke-width="0.14" transform="rotate(-45 392.74 329.9)">216</text>
<line x1="394.05" y1="320" x2="394.05" y2="321.2" stroke="#111" stroke-width="0.7"/>
<line x1="399.05" y1="320" x2="399.05" y2="322.4" stroke="#111" stroke-width="0.9"/>
<text x="402.75" y="329.9" font-size="6.1" text-anchor="end" fill="#383838" stroke="#383838" stroke-width="0.14" transform="rotate(-45 402.75 329.9)">240</text>
<line x1="404.05" y1="320" x2="404.05" y2="321.2" stroke="#111" stroke-width="0.7"/>
<line x1="409.05" y1="320" x2="409.05" y2="322.4" stroke="#111" stroke-width="0.9"/>
<text x="412.75" y="329.9" font-size="6.1" text-anchor="end" fill="#383838" stroke="#383838" stroke-width="0.14" transform="rotate(-45 412.75 329.9)">264</text>
<line x1="414.05" y1="320" x2="414.05" y2="321.2" stroke="#111" stroke-width="0.7"/>
<line x1="419.06" y1="320" x2="419.06" y2="322.4" stroke="#111" stroke-width="0.9"/>
<text x="422.76" y="329.9" font-size="6.1" text-anchor="end" fill="#383838" stroke="#383838" stroke-width="0.14" transform="rotate(-45 422.76 329.9)">288</text>
<line x1="424.06" y1="320" x2="424.06" y2="321.2" stroke="#111" stroke-width="0.7"/>
<line x1="429.06" y1="320" x2="429.06" y2="322.4" stroke="#111" stroke-width="0.9"/>
<text x="432.76" y="329.9" font-size="6.1" text-anchor="end" fill="#383838" stroke="#383838" stroke-width="0.14" transform="rotate(-45 432.76 329.9)">312</text>
<line x1="434.06" y1="320" x2="434.06" y2="321.2" stroke="#111" stroke-width="0.7"/>
<line x1="439.07" y1="320" x2="439.07" y2="322.4" stroke="#111" stroke-width="0.9"/>
<text x="442.77" y="329.9" font-size="6.1" text-anchor="end" fill="#383838" stroke="#383838" stroke-width="0.14" transform="rotate(-45 442.77 329.9)">336</text>
<line x1="444.07" y1="320" x2="444.07" y2="321.2" stroke="#111" stroke-width="0.7"/>
<line x1="449.07" y1="320" x2="449.07" y2="322.4" stroke="#111" stroke-width="0.9"/>
<text x="452.77" y="329.9" font-size="6.1" text-anchor="end" fill="#383838" stroke="#383838" stroke-width="0.14" transform="rotate(-45 452.77 329.9)">360</text>
<line x1="454.07" y1="320" x2="454.07" y2="321.2" stroke="#111" stroke-width="0.7"/>
<line x1="459.08" y1="320" x2="459.08" y2="322.4" stroke="#111" stroke-width="0.9"/>
<text x="462.78" y="329.9" font-size="6.1" text-anchor="end" fill="#383838" stroke="#383838" stroke-width="0.14" transform="rotate(-45 462.78 329.9)">384</text>
<line x1="464.08" y1="320" x2="464.08" y2="321.2" stroke="#111" stroke-width="0.7"/>
<line x1="469.08" y1="320" x2="469.08" y2="322.4" stroke="#111" stroke-width="0.9"/>
<text x="472.78" y="329.9" font-size="6.1" text-anchor="end" fill="#383838" stroke="#383838" stroke-width="0.14" transform="rotate(-45 472.78 329.9)">408</text>
<line x1="474.08" y1="320" x2="474.08" y2="321.2" stroke="#111" stroke-width="0.7"/>
<line x1="479.09" y1="320" x2="479.09" y2="322.4" stroke="#111" stroke-width="0.9"/>
<text x="482.79" y="329.9" font-size="6.1" text-anchor="end" fill="#383838" stroke="#383838" stroke-width="0.14" transform="rotate(-45 482.79 329.9)">432</text>
<line x1="484.09" y1="320" x2="484.09" y2="321.2" stroke="#111" stroke-width="0.7"/>
<line x1="489.09" y1="320" x2="489.09" y2="322.4" stroke="#111" stroke-width="0.9"/>
<text x="492.79" y="329.9" font-size="6.1" text-anchor="end" fill="#383838" stroke="#383838" stroke-width="0.14" transform="rotate(-45 492.79 329.9)">456</text>
<line x1="494.09" y1="320" x2="494.09" y2="321.2" stroke="#111" stroke-width="0.7"/>
<line x1="499.1" y1="320" x2="499.1" y2="322.4" stroke="#111" stroke-width="0.9"/>
<text x="502.8" y="329.9" font-size="6.1" text-anchor="end" fill="#383838" stroke="#383838" stroke-width="0.14" transform="rotate(-45 502.8 329.9)">480</text>
<line x1="504.1" y1="320" x2="504.1" y2="321.2" stroke="#111" stroke-width="0.7"/>
<line x1="509.1" y1="320" x2="509.1" y2="322.4" stroke="#111" stroke-width="0.9"/>
<text x="512.8" y="329.9" font-size="6.1" text-anchor="end" fill="#383838" stroke="#383838" stroke-width="0.14" transform="rotate(-45 512.8 329.9)">504</text>
<text x="390.8" y="347.4" font-size="6.8" fill="#222" stroke="#222" stroke-width="0.32" textLength="29.0" lengthAdjust="spacingAndGlyphs">Time (hour)</text>
<text x="273.4" y="307.6" font-size="6.9" fill="#222" textLength="86" lengthAdjust="spacingAndGlyphs" transform="rotate(-90 273.4 307.6)">RO7283420 concentration (μg/ml)</text>
<line x1="41.2" y1="34.4" x2="41.2" y2="51.6" stroke="#2d6a58" stroke-width="0.75"/>
<line x1="39.3" y1="34.4" x2="43.1" y2="34.4" stroke="#2d6a58" stroke-width="0.75"/>
<line x1="41.75" y1="36.5" x2="41.75" y2="57.5" stroke="#c4c4c4" stroke-width="0.75"/>
<line x1="39.85" y1="36.5" x2="43.65" y2="36.5" stroke="#c4c4c4" stroke-width="0.75"/>
<line x1="49.5" y1="41.1" x2="49.5" y2="57.9" stroke="#2d6a58" stroke-width="0.75"/>
<line x1="47.6" y1="41.1" x2="51.4" y2="41.1" stroke="#2d6a58" stroke-width="0.75"/>
<line x1="49.5" y1="48.5" x2="49.5" y2="65.3" stroke="#bdbdbd" stroke-width="0.75"/>
<line x1="47.6" y1="48.5" x2="51.4" y2="48.5" stroke="#bdbdbd" stroke-width="0.75"/>
<line x1="49.5" y1="52.7" x2="49.5" y2="74.8" stroke="#b3dcb1" stroke-width="0.75"/>
<line x1="47.6" y1="52.7" x2="51.4" y2="52.7" stroke="#b3dcb1" stroke-width="0.75"/>
<line x1="59.4" y1="46.4" x2="59.4" y2="63.2" stroke="#2d6a58" stroke-width="0.75"/>
<line x1="57.5" y1="46.4" x2="61.3" y2="46.4" stroke="#2d6a58" stroke-width="0.75"/>
<line x1="59.4" y1="52.7" x2="59.4" y2="69.9" stroke="#bdbdbd" stroke-width="0.75"/>
<line x1="57.5" y1="52.7" x2="61.3" y2="52.7" stroke="#bdbdbd" stroke-width="0.75"/>
<line x1="59.4" y1="57.2" x2="59.4" y2="81.2" stroke="#b3dcb1" stroke-width="0.75"/>
<line x1="57.5" y1="57.2" x2="61.3" y2="57.2" stroke="#b3dcb1" stroke-width="0.75"/>
<line x1="109.3" y1="53.5" x2="109.3" y2="75.2" stroke="#2d6a58" stroke-width="0.75"/>
<line x1="107.4" y1="53.5" x2="111.2" y2="53.5" stroke="#2d6a58" stroke-width="0.75"/>
<line x1="109.3" y1="59.5" x2="109.3" y2="85.1" stroke="#a8a8a8" stroke-width="0.75"/>
<line x1="107.4" y1="59.5" x2="111.2" y2="59.5" stroke="#a8a8a8" stroke-width="0.75"/>
<line x1="109.3" y1="85" x2="109.3" y2="95" stroke="#a5d6a3" stroke-width="0.75"/>
<line x1="107.4" y1="85" x2="111.2" y2="85" stroke="#a5d6a3" stroke-width="0.75"/>
<line x1="179.5" y1="70.6" x2="179.5" y2="91.9" stroke="#2d6a58" stroke-width="0.75"/>
<line x1="177.6" y1="70.6" x2="181.4" y2="70.6" stroke="#2d6a58" stroke-width="0.75"/>
<line x1="179.5" y1="96.5" x2="179.5" y2="101.6" stroke="#a8a8a8" stroke-width="0.75"/>
<line x1="177.6" y1="96.5" x2="181.4" y2="96.5" stroke="#a8a8a8" stroke-width="0.75"/>
<line x1="179.5" y1="106" x2="179.5" y2="109.6" stroke="#a5d6a3" stroke-width="0.75"/>
<line x1="177.6" y1="106" x2="181.4" y2="106" stroke="#a5d6a3" stroke-width="0.75"/>
<line x1="249.2" y1="78.2" x2="249.2" y2="91.6" stroke="#b0b0b0" stroke-width="0.75"/>
<line x1="247.3" y1="78.2" x2="251.1" y2="78.2" stroke="#b0b0b0" stroke-width="0.75"/>
<line x1="249.2" y1="91.6" x2="249.2" y2="103.2" stroke="#2d6a58" stroke-width="0.75"/>
<line x1="247.3" y1="91.6" x2="251.1" y2="91.6" stroke="#2d6a58" stroke-width="0.75"/>
<path d="M40.2 84 L41.4 88.5 L49.5 94.6 L59.5 99.2 L109.5 114.8" fill="none" stroke="#d9e6d3" stroke-width="0.9"/>
<path d="M40.2 82.7L41.5 85.04L38.9 85.04Z" fill="none" stroke="#d9e6d3" stroke-width="0.7"/>
<path d="M41.4 87.2L42.7 89.54L40.1 89.54Z" fill="none" stroke="#d9e6d3" stroke-width="0.7"/>
<path d="M49.5 93.3L50.8 95.64L48.2 95.64Z" fill="none" stroke="#d9e6d3" stroke-width="0.7"/>
<path d="M59.5 97.9L60.8 100.24L58.2 100.24Z" fill="none" stroke="#d9e6d3" stroke-width="0.7"/>
<path d="M109.5 113.5L110.8 115.84L108.2 115.84Z" fill="none" stroke="#d9e6d3" stroke-width="0.7"/>
<path d="M40.2 74 L41.4 77.2 L49.5 82 L59.5 85.6 L109.5 98.5 L179.6 112.9" fill="none" stroke="#93d190" stroke-width="0.9"/>
<circle cx="40.2" cy="74" r="1.4" fill="none" stroke="#93d190" stroke-width="0.7"/>
<circle cx="41.4" cy="77.2" r="1.4" fill="none" stroke="#93d190" stroke-width="0.7"/>
<circle cx="49.5" cy="82" r="1.4" fill="none" stroke="#93d190" stroke-width="0.7"/>
<circle cx="59.5" cy="85.6" r="1.4" fill="none" stroke="#93d190" stroke-width="0.7"/>
<circle cx="109.5" cy="98.5" r="1.4" fill="none" stroke="#93d190" stroke-width="0.7"/>
<circle cx="179.6" cy="112.9" r="1.4" fill="none" stroke="#93d190" stroke-width="0.7"/>
<path d="M40.2 63.5 L41.4 67 L49.5 74.8 L59.5 81.2 L109.5 95 L179.6 109.6" fill="none" stroke="#66bb63" stroke-width="0.9" stroke-dasharray="1.6 1.0"/>
<rect x="38.9" y="62.2" width="2.6" height="2.6" fill="none" stroke="#66bb63" stroke-width="0.7"/>
<rect x="40.1" y="65.7" width="2.6" height="2.6" fill="none" stroke="#66bb63" stroke-width="0.7"/>
<rect x="48.2" y="73.5" width="2.6" height="2.6" fill="none" stroke="#66bb63" stroke-width="0.7"/>
<rect x="58.2" y="79.9" width="2.6" height="2.6" fill="none" stroke="#66bb63" stroke-width="0.7"/>
<rect x="108.2" y="93.7" width="2.6" height="2.6" fill="none" stroke="#66bb63" stroke-width="0.7"/>
<rect x="178.3" y="108.3" width="2.6" height="2.6" fill="none" stroke="#66bb63" stroke-width="0.7"/>
<path d="M40.2 54.5 L41.4 57.5 L49.5 65.3 L59.5 69.9 L109.5 85.6 L179.6 101.8" fill="none" stroke="#a3a3a3" stroke-width="0.75"/>
<circle cx="40.2" cy="54.5" r="1.3" fill="none" stroke="#a3a3a3" stroke-width="0.7"/>
<circle cx="41.4" cy="57.5" r="1.3" fill="none" stroke="#a3a3a3" stroke-width="0.7"/>
<circle cx="49.5" cy="65.3" r="1.3" fill="none" stroke="#a3a3a3" stroke-width="0.7"/>
<circle cx="59.5" cy="69.9" r="1.3" fill="none" stroke="#a3a3a3" stroke-width="0.7"/>
<circle cx="109.5" cy="85.6" r="1.3" fill="none" stroke="#a3a3a3" stroke-width="0.7"/>
<circle cx="179.6" cy="101.8" r="1.3" fill="none" stroke="#a3a3a3" stroke-width="0.7"/>
<path d="M179.6 101.9 L249.6 102.6" fill="none" stroke="#a8a8a8" stroke-width="0.7" stroke-dasharray="0.9 0.7"/>
<path d="M39.9 50.2 L41.75 51.6 L49.5 57.9 L59.5 63.2 L109.5 75.2 L179.6 91.9 L249.4 103.2" fill="none" stroke="#4d6b63" stroke-width="0.85" stroke-dasharray="1.3 0.8"/>
<polygon points="39.9,48.1 40.38,49.72 42,50.2 40.38,50.68 39.9,52.3 39.42,50.68 37.8,50.2 39.42,49.72" fill="#1d5e47" stroke="#1d5e47" stroke-width="0.4"/>
<polygon points="41.75,49.5 42.23,51.12 43.85,51.6 42.23,52.08 41.75,53.7 41.27,52.08 39.65,51.6 41.27,51.12" fill="#1d5e47" stroke="#1d5e47" stroke-width="0.4"/>
<polygon points="49.5,55.8 49.98,57.42 51.6,57.9 49.98,58.38 49.5,60 49.02,58.38 47.4,57.9 49.02,57.42" fill="#1d5e47" stroke="#1d5e47" stroke-width="0.4"/>
<polygon points="59.5,61.1 59.98,62.72 61.6,63.2 59.98,63.68 59.5,65.3 59.02,63.68 57.4,63.2 59.02,62.72" fill="#1d5e47" stroke="#1d5e47" stroke-width="0.4"/>
<polygon points="109.5,73.1 109.98,74.72 111.6,75.2 109.98,75.68 109.5,77.3 109.02,75.68 107.4,75.2 109.02,74.72" fill="#1d5e47" stroke="#1d5e47" stroke-width="0.4"/>
<polygon points="179.6,89.8 180.08,91.42 181.7,91.9 180.08,92.38 179.6,94 179.12,92.38 177.5,91.9 179.12,91.42" fill="#1d5e47" stroke="#1d5e47" stroke-width="0.4"/>
<polygon points="249.4,101.1 249.88,102.72 251.5,103.2 249.88,103.68 249.4,105.3 248.92,103.68 247.3,103.2 248.92,102.72" fill="#1d5e47" stroke="#1d5e47" stroke-width="0.4"/>
<line x1="299.8" y1="58.5" x2="299.8" y2="63.5" stroke="#b5b5b5" stroke-width="0.75"/>
<line x1="297.9" y1="58.5" x2="301.7" y2="58.5" stroke="#b5b5b5" stroke-width="0.75"/>
<line x1="308.7" y1="65.5" x2="308.7" y2="70.1" stroke="#a0a0a0" stroke-width="0.75"/>
<line x1="306.8" y1="65.5" x2="310.6" y2="65.5" stroke="#a0a0a0" stroke-width="0.75"/>
<line x1="318.7" y1="73.5" x2="318.7" y2="79.3" stroke="#a0a0a0" stroke-width="0.75"/>
<line x1="316.8" y1="73.5" x2="320.6" y2="73.5" stroke="#a0a0a0" stroke-width="0.75"/>
<line x1="368.7" y1="93" x2="368.7" y2="100.1" stroke="#b5b5b5" stroke-width="0.75"/>
<line x1="366.8" y1="93" x2="370.6" y2="93" stroke="#b5b5b5" stroke-width="0.75"/>
<line x1="388.9" y1="48.5" x2="388.9" y2="53.2" stroke="#a0a0a0" stroke-width="0.75"/>
<line x1="387" y1="48.5" x2="390.8" y2="48.5" stroke="#a0a0a0" stroke-width="0.75"/>
<line x1="389" y1="84.5" x2="389" y2="88.4" stroke="#c8c8c8" stroke-width="0.75"/>
<line x1="387.1" y1="84.5" x2="390.9" y2="84.5" stroke="#c8c8c8" stroke-width="0.75"/>
<line x1="508.8" y1="89" x2="508.8" y2="97.5" stroke="#a0a0a0" stroke-width="0.75"/>
<line x1="506.9" y1="89" x2="510.7" y2="89" stroke="#a0a0a0" stroke-width="0.75"/>
<line x1="370.2" y1="41" x2="370.2" y2="44" stroke="#a0a0a0" stroke-width="0.75"/>
<line x1="368.3" y1="41" x2="372.1" y2="41" stroke="#a0a0a0" stroke-width="0.75"/>
<path d="M299.3 63.3 L300.3 66 L308.7 83.3 L318.7 86 L368.7 99.2 L369.9 63.9 L371.2 68.5 L373 72.5 L375.5 75.8 L378.7 78.3 L388.7 88.4 L438.8 98.1 L508.8 116.8" fill="none" stroke="#cbcbcb" stroke-width="0.9"/>
<circle cx="299.3" cy="63.3" r="1.0" fill="#cbcbcb" stroke="#cbcbcb" stroke-width="0.5"/>
<circle cx="308.7" cy="83.3" r="1.0" fill="#cbcbcb" stroke="#cbcbcb" stroke-width="0.5"/>
<circle cx="318.7" cy="86" r="1.0" fill="#cbcbcb" stroke="#cbcbcb" stroke-width="0.5"/>
<circle cx="368.7" cy="99.2" r="1.0" fill="#cbcbcb" stroke="#cbcbcb" stroke-width="0.5"/>
<circle cx="369.9" cy="63.9" r="1.0" fill="#cbcbcb" stroke="#cbcbcb" stroke-width="0.5"/>
<circle cx="378.7" cy="78.3" r="1.0" fill="#cbcbcb" stroke="#cbcbcb" stroke-width="0.5"/>
<circle cx="388.7" cy="88.4" r="1.0" fill="#cbcbcb" stroke="#cbcbcb" stroke-width="0.5"/>
<circle cx="438.8" cy="98.1" r="1.0" fill="#cbcbcb" stroke="#cbcbcb" stroke-width="0.5"/>
<circle cx="508.8" cy="116.8" r="1.0" fill="#cbcbcb" stroke="#cbcbcb" stroke-width="0.5"/>
<path d="M299.3 64 L300.5 62 L308.7 70.1 L318.7 79.3 L368.7 100.1 L370 44 L378.7 50.1 L388.7 53.2 L438.8 73 L508.8 97.5" fill="none" stroke="#a6a6a6" stroke-width="0.85" stroke-dasharray="1.3 0.8"/>
<circle cx="299.3" cy="64" r="1.45" fill="#8f8f8f" stroke="#8f8f8f" stroke-width="0.5"/>
<circle cx="300.5" cy="62" r="1.45" fill="#8f8f8f" stroke="#8f8f8f" stroke-width="0.5"/>
<circle cx="308.7" cy="70.1" r="1.45" fill="#8f8f8f" stroke="#8f8f8f" stroke-width="0.5"/>
<circle cx="318.7" cy="79.3" r="1.45" fill="#8f8f8f" stroke="#8f8f8f" stroke-width="0.5"/>
<circle cx="368.7" cy="100.1" r="1.45" fill="#8f8f8f" stroke="#8f8f8f" stroke-width="0.5"/>
<circle cx="370" cy="44" r="1.45" fill="#8f8f8f" stroke="#8f8f8f" stroke-width="0.5"/>
<circle cx="378.7" cy="50.1" r="1.45" fill="#8f8f8f" stroke="#8f8f8f" stroke-width="0.5"/>
<circle cx="388.7" cy="53.2" r="1.45" fill="#8f8f8f" stroke="#8f8f8f" stroke-width="0.5"/>
<circle cx="438.8" cy="73" r="1.45" fill="#8f8f8f" stroke="#8f8f8f" stroke-width="0.5"/>
<circle cx="508.8" cy="97.5" r="1.45" fill="#8f8f8f" stroke="#8f8f8f" stroke-width="0.5"/>
<path d="M369.4 86 L370.5 31.8 L379 35.7 L438.9 50.1 L508.9 70" fill="none" stroke="#767676" stroke-width="0.8" stroke-dasharray="1.3 0.8"/>
<circle cx="369.4" cy="86" r="1.4" fill="none" stroke="#767676" stroke-width="0.7"/>
<circle cx="370.2" cy="36" r="1.4" fill="none" stroke="#767676" stroke-width="0.7"/>
<circle cx="379" cy="35.7" r="1.4" fill="none" stroke="#767676" stroke-width="0.7"/>
<circle cx="438.9" cy="50.1" r="1.4" fill="none" stroke="#767676" stroke-width="0.7"/>
<circle cx="508.9" cy="70" r="1.4" fill="none" stroke="#767676" stroke-width="0.7"/>
<polygon points="370.5,29.9 370.91,31.39 372.4,31.8 370.91,32.21 370.5,33.7 370.09,32.21 368.6,31.8 370.09,31.39" fill="#8a8a8a" stroke="#8a8a8a" stroke-width="0.4"/>
<line x1="41" y1="251" x2="41" y2="275" stroke="#4aa6d0" stroke-width="0.7"/>
<line x1="39" y1="251" x2="43" y2="251" stroke="#4aa6d0" stroke-width="0.7"/>
<line x1="41.3" y1="261" x2="41.3" y2="278" stroke="#2f5f9f" stroke-width="0.7"/>
<line x1="39.3" y1="261" x2="43.3" y2="261" stroke="#2f5f9f" stroke-width="0.7"/>
<line x1="41.6" y1="265.5" x2="41.6" y2="280" stroke="#f2ae45" stroke-width="0.7"/>
<line x1="39.6" y1="265.5" x2="43.6" y2="265.5" stroke="#f2ae45" stroke-width="0.7"/>
<line x1="49.3" y1="270" x2="49.3" y2="289" stroke="#8cc6e6" stroke-width="0.7"/>
<line x1="47.3" y1="270" x2="51.3" y2="270" stroke="#8cc6e6" stroke-width="0.7"/>
<line x1="49.3" y1="270.8" x2="49.3" y2="271" stroke="#5b86b8" stroke-width="0.7"/>
<line x1="47.3" y1="270.8" x2="51.3" y2="270.8" stroke="#5b86b8" stroke-width="0.7"/>
<line x1="49.3" y1="279.5" x2="49.3" y2="288.5" stroke="#f2ae45" stroke-width="0.7"/>
<line x1="47.3" y1="279.5" x2="51.3" y2="279.5" stroke="#f2ae45" stroke-width="0.7"/>
<line x1="59.2" y1="272" x2="59.2" y2="292.5" stroke="#8cc6e6" stroke-width="0.7"/>
<line x1="57.2" y1="272" x2="61.2" y2="272" stroke="#8cc6e6" stroke-width="0.7"/>
<line x1="59.2" y1="272.8" x2="59.2" y2="273" stroke="#5b86b8" stroke-width="0.7"/>
<line x1="57.2" y1="272.8" x2="61.2" y2="272.8" stroke="#5b86b8" stroke-width="0.7"/>
<line x1="59.2" y1="281" x2="59.2" y2="292" stroke="#f2ae45" stroke-width="0.7"/>
<line x1="57.2" y1="281" x2="61.2" y2="281" stroke="#f2ae45" stroke-width="0.7"/>
<line x1="110.4" y1="231.4" x2="110.4" y2="266" stroke="#4aa6d0" stroke-width="0.7"/>
<line x1="108.4" y1="231.4" x2="112.4" y2="231.4" stroke="#4aa6d0" stroke-width="0.7"/>
<line x1="110" y1="245.4" x2="110" y2="262" stroke="#2f5f9f" stroke-width="0.7"/>
<line x1="108" y1="245.4" x2="112" y2="245.4" stroke="#2f5f9f" stroke-width="0.7"/>
<line x1="110" y1="294.2" x2="110" y2="309" stroke="#f2ae45" stroke-width="0.7"/>
<line x1="108" y1="294.2" x2="112" y2="294.2" stroke="#f2ae45" stroke-width="0.7"/>
<line x1="119" y1="243.6" x2="119" y2="267" stroke="#4aa6d0" stroke-width="0.7"/>
<line x1="117" y1="243.6" x2="121" y2="243.6" stroke="#4aa6d0" stroke-width="0.7"/>
<line x1="119" y1="262.3" x2="119" y2="274" stroke="#2f5f9f" stroke-width="0.7"/>
<line x1="117" y1="262.3" x2="121" y2="262.3" stroke="#2f5f9f" stroke-width="0.7"/>
<line x1="129.6" y1="243.6" x2="129.6" y2="270" stroke="#4aa6d0" stroke-width="0.7"/>
<line x1="127.6" y1="243.6" x2="131.6" y2="243.6" stroke="#4aa6d0" stroke-width="0.7"/>
<line x1="180.3" y1="228.5" x2="180.3" y2="246.3" stroke="#4aa6d0" stroke-width="0.7"/>
<line x1="178.3" y1="228.5" x2="182.3" y2="228.5" stroke="#4aa6d0" stroke-width="0.7"/>
<line x1="180" y1="233.5" x2="180" y2="246.3" stroke="#5a7fb0" stroke-width="0.7"/>
<line x1="178" y1="233.5" x2="182" y2="233.5" stroke="#5a7fb0" stroke-width="0.7"/>
<line x1="189.5" y1="234.5" x2="189.5" y2="250.6" stroke="#6f93b8" stroke-width="0.7"/>
<line x1="187.5" y1="234.5" x2="191.5" y2="234.5" stroke="#6f93b8" stroke-width="0.7"/>
<line x1="199.5" y1="236.5" x2="199.5" y2="256.9" stroke="#6f93b8" stroke-width="0.7"/>
<line x1="197.5" y1="236.5" x2="201.5" y2="236.5" stroke="#6f93b8" stroke-width="0.7"/>
<line x1="199.5" y1="240" x2="199.5" y2="256.9" stroke="#8fa3c0" stroke-width="0.7"/>
<line x1="197.5" y1="240" x2="201.5" y2="240" stroke="#8fa3c0" stroke-width="0.7"/>
<line x1="249.2" y1="247.9" x2="249.2" y2="268.5" stroke="#4aa6d0" stroke-width="0.7"/>
<line x1="247.2" y1="247.9" x2="251.2" y2="247.9" stroke="#4aa6d0" stroke-width="0.7"/>
<line x1="249.2" y1="255" x2="249.2" y2="272.8" stroke="#2f5f9f" stroke-width="0.7"/>
<line x1="247.2" y1="255" x2="251.2" y2="255" stroke="#2f5f9f" stroke-width="0.7"/>
<line x1="249.2" y1="259.8" x2="249.2" y2="282.4" stroke="#f2ae45" stroke-width="0.7"/>
<line x1="247.2" y1="259.8" x2="251.2" y2="259.8" stroke="#f2ae45" stroke-width="0.7"/>
<path d="M40.4 272 L41.6 278 L44 283 L49.5 289.5 L59.5 293.5 L109.5 312.6 L110.2 262 L112 266 L119.3 273.5 L129.6 280.5 L179.6 297.5 L180.3 252 L189 259 L199.5 269 L249.6 293.8" fill="none" stroke="#b9cee7" stroke-width="0.9"/>
<circle cx="40.4" cy="272" r="1.1" fill="#b9cee7" stroke="#b9cee7" stroke-width="0.5"/>
<circle cx="41.6" cy="278" r="1.1" fill="#b9cee7" stroke="#b9cee7" stroke-width="0.5"/>
<circle cx="44" cy="283" r="1.1" fill="#b9cee7" stroke="#b9cee7" stroke-width="0.5"/>
<circle cx="49.5" cy="289.5" r="1.1" fill="#b9cee7" stroke="#b9cee7" stroke-width="0.5"/>
<circle cx="59.5" cy="293.5" r="1.1" fill="#b9cee7" stroke="#b9cee7" stroke-width="0.5"/>
<circle cx="109.5" cy="312.6" r="1.1" fill="#b9cee7" stroke="#b9cee7" stroke-width="0.5"/>
<circle cx="110.2" cy="262" r="1.1" fill="#b9cee7" stroke="#b9cee7" stroke-width="0.5"/>
<circle cx="112" cy="266" r="1.1" fill="#b9cee7" stroke="#b9cee7" stroke-width="0.5"/>
<circle cx="119.3" cy="273.5" r="1.1" fill="#b9cee7" stroke="#b9cee7" stroke-width="0.5"/>
<circle cx="129.6" cy="280.5" r="1.1" fill="#b9cee7" stroke="#b9cee7" stroke-width="0.5"/>
<circle cx="179.6" cy="297.5" r="1.1" fill="#b9cee7" stroke="#b9cee7" stroke-width="0.5"/>
<circle cx="180.3" cy="252" r="1.1" fill="#b9cee7" stroke="#b9cee7" stroke-width="0.5"/>
<circle cx="189" cy="259" r="1.1" fill="#b9cee7" stroke="#b9cee7" stroke-width="0.5"/>
<circle cx="199.5" cy="269" r="1.1" fill="#b9cee7" stroke="#b9cee7" stroke-width="0.5"/>
<circle cx="249.6" cy="293.8" r="1.1" fill="#b9cee7" stroke="#b9cee7" stroke-width="0.5"/>
<path d="M40.4 274 L41.6 279 L44 283.5 L49.5 289.5 L59.5 293 L109.5 311.5 L110.2 259.5 L112 266 L119.3 273.5 L129.6 280.5 L179.6 297 L180.3 250.6 L189 255.8 L199.5 261.1 L249.6 275.6" fill="none" stroke="#a9aabd" stroke-width="0.9"/>
<circle cx="40.4" cy="274" r="1.3" fill="none" stroke="#a9aabd" stroke-width="0.7"/>
<circle cx="41.6" cy="279" r="1.3" fill="none" stroke="#a9aabd" stroke-width="0.7"/>
<circle cx="44" cy="283.5" r="1.3" fill="none" stroke="#a9aabd" stroke-width="0.7"/>
<circle cx="49.5" cy="289.5" r="1.3" fill="none" stroke="#a9aabd" stroke-width="0.7"/>
<circle cx="59.5" cy="293" r="1.3" fill="none" stroke="#a9aabd" stroke-width="0.7"/>
<circle cx="109.5" cy="311.5" r="1.3" fill="none" stroke="#a9aabd" stroke-width="0.7"/>
<circle cx="110.2" cy="259.5" r="1.3" fill="none" stroke="#a9aabd" stroke-width="0.7"/>
<circle cx="112" cy="266" r="1.3" fill="none" stroke="#a9aabd" stroke-width="0.7"/>
<circle cx="119.3" cy="273.5" r="1.3" fill="none" stroke="#a9aabd" stroke-width="0.7"/>
<circle cx="129.6" cy="280.5" r="1.3" fill="none" stroke="#a9aabd" stroke-width="0.7"/>
<circle cx="179.6" cy="297" r="1.3" fill="none" stroke="#a9aabd" stroke-width="0.7"/>
<circle cx="180.3" cy="250.6" r="1.3" fill="none" stroke="#a9aabd" stroke-width="0.7"/>
<circle cx="189" cy="255.8" r="1.3" fill="none" stroke="#a9aabd" stroke-width="0.7"/>
<circle cx="199.5" cy="261.1" r="1.3" fill="none" stroke="#a9aabd" stroke-width="0.7"/>
<circle cx="249.6" cy="275.6" r="1.3" fill="none" stroke="#a9aabd" stroke-width="0.7"/>
<path d="M40.4 276 L41.6 281 L44 284.5 L49.5 288.5 L59.5 292 L109.5 308.9 L110 294.2 L110.5 267.1 L112 269 L119.3 274.5 L129.6 280 L179.6 293.9 L180.3 257.4 L189 262.2 L199.5 264.3 L249.6 282.4" fill="none" stroke="#f2ae45" stroke-width="0.9"/>
<path d="M39 276H41.8M40.4 274.6V277.4" stroke="#f2ae45" stroke-width="0.8"/>
<path d="M40.2 281H43M41.6 279.6V282.4" stroke="#f2ae45" stroke-width="0.8"/>
<path d="M42.6 284.5H45.4M44 283.1V285.9" stroke="#f2ae45" stroke-width="0.8"/>
<path d="M48.1 288.5H50.9M49.5 287.1V289.9" stroke="#f2ae45" stroke-width="0.8"/>
<path d="M58.1 292H60.9M59.5 290.6V293.4" stroke="#f2ae45" stroke-width="0.8"/>
<path d="M108.1 308.9H110.9M109.5 307.5V310.3" stroke="#f2ae45" stroke-width="0.8"/>
<path d="M108.6 294.2H111.4M110 292.8V295.6" stroke="#f2ae45" stroke-width="0.8"/>
<path d="M109.1 267.1H111.9M110.5 265.7V268.5" stroke="#f2ae45" stroke-width="0.8"/>
<path d="M110.6 269H113.4M112 267.6V270.4" stroke="#f2ae45" stroke-width="0.8"/>
<path d="M117.9 274.5H120.7M119.3 273.1V275.9" stroke="#f2ae45" stroke-width="0.8"/>
<path d="M128.2 280H131M129.6 278.6V281.4" stroke="#f2ae45" stroke-width="0.8"/>
<path d="M178.2 293.9H181M179.6 292.5V295.3" stroke="#f2ae45" stroke-width="0.8"/>
<path d="M178.9 257.4H181.7M180.3 256V258.8" stroke="#f2ae45" stroke-width="0.8"/>
<path d="M187.6 262.2H190.4M189 260.8V263.6" stroke="#f2ae45" stroke-width="0.8"/>
<path d="M198.1 264.3H200.9M199.5 262.9V265.7" stroke="#f2ae45" stroke-width="0.8"/>
<path d="M248.2 282.4H251M249.6 281V283.8" stroke="#f2ae45" stroke-width="0.8"/>
<path d="M40.4 272 L41.6 277 L44 283 L49.5 290 L59.5 294 L109.5 314.5 L110.3 264 L112 264.5 L119 266.8 L129.6 270.2 L179.1 277.7 L179.8 246.3 L189 250.6 L199.5 256.9 L249.6 268.5" fill="none" stroke="#4aa6d0" stroke-width="0.9" stroke-dasharray="1.6 1.0"/>
<path d="M40.4 270.4L42 272L40.4 273.6L38.8 272Z" fill="#4aa6d0" stroke="#4aa6d0" stroke-width="0.5"/>
<path d="M41.6 275.4L43.2 277L41.6 278.6L40 277Z" fill="#4aa6d0" stroke="#4aa6d0" stroke-width="0.5"/>
<path d="M44 281.4L45.6 283L44 284.6L42.4 283Z" fill="#4aa6d0" stroke="#4aa6d0" stroke-width="0.5"/>
<path d="M49.5 288.4L51.1 290L49.5 291.6L47.9 290Z" fill="#4aa6d0" stroke="#4aa6d0" stroke-width="0.5"/>
<path d="M59.5 292.4L61.1 294L59.5 295.6L57.9 294Z" fill="#4aa6d0" stroke="#4aa6d0" stroke-width="0.5"/>
<path d="M109.5 312.9L111.1 314.5L109.5 316.1L107.9 314.5Z" fill="#4aa6d0" stroke="#4aa6d0" stroke-width="0.5"/>
<path d="M110.3 262.4L111.9 264L110.3 265.6L108.7 264Z" fill="#4aa6d0" stroke="#4aa6d0" stroke-width="0.5"/>
<path d="M112 262.9L113.6 264.5L112 266.1L110.4 264.5Z" fill="#4aa6d0" stroke="#4aa6d0" stroke-width="0.5"/>
<path d="M119 265.2L120.6 266.8L119 268.4L117.4 266.8Z" fill="#4aa6d0" stroke="#4aa6d0" stroke-width="0.5"/>
<path d="M129.6 268.6L131.2 270.2L129.6 271.8L128 270.2Z" fill="#4aa6d0" stroke="#4aa6d0" stroke-width="0.5"/>
<path d="M179.1 276.1L180.7 277.7L179.1 279.3L177.5 277.7Z" fill="#4aa6d0" stroke="#4aa6d0" stroke-width="0.5"/>
<path d="M179.8 244.7L181.4 246.3L179.8 247.9L178.2 246.3Z" fill="#4aa6d0" stroke="#4aa6d0" stroke-width="0.5"/>
<path d="M189 249L190.6 250.6L189 252.2L187.4 250.6Z" fill="#4aa6d0" stroke="#4aa6d0" stroke-width="0.5"/>
<path d="M199.5 255.3L201.1 256.9L199.5 258.5L197.9 256.9Z" fill="#4aa6d0" stroke="#4aa6d0" stroke-width="0.5"/>
<path d="M249.6 266.9L251.2 268.5L249.6 270.1L248 268.5Z" fill="#4aa6d0" stroke="#4aa6d0" stroke-width="0.5"/>
<path d="M40.4 270 L41.6 277 L44 284 L49.5 291.3 L59.5 295.8 L109.5 317 L110 268 L112 269 L119.3 274.5 L129.3 281 L179.1 272.2 L179.8 246.3 L189 252 L199.5 256.9 L249.6 272.8" fill="none" stroke="#2f5f9f" stroke-width="0.9" stroke-dasharray="1.6 1.0"/>
<path d="M40.4 268.4L42 270L40.4 271.6L38.8 270Z" fill="#2f5f9f" stroke="#2f5f9f" stroke-width="0.5"/>
<path d="M41.6 275.4L43.2 277L41.6 278.6L40 277Z" fill="#2f5f9f" stroke="#2f5f9f" stroke-width="0.5"/>
<path d="M44 282.4L45.6 284L44 285.6L42.4 284Z" fill="#2f5f9f" stroke="#2f5f9f" stroke-width="0.5"/>
<path d="M49.5 289.7L51.1 291.3L49.5 292.9L47.9 291.3Z" fill="#2f5f9f" stroke="#2f5f9f" stroke-width="0.5"/>
<path d="M59.5 294.2L61.1 295.8L59.5 297.4L57.9 295.8Z" fill="#2f5f9f" stroke="#2f5f9f" stroke-width="0.5"/>
<path d="M109.5 315.4L111.1 317L109.5 318.6L107.9 317Z" fill="#2f5f9f" stroke="#2f5f9f" stroke-width="0.5"/>
<path d="M110 266.4L111.6 268L110 269.6L108.4 268Z" fill="#2f5f9f" stroke="#2f5f9f" stroke-width="0.5"/>
<path d="M112 267.4L113.6 269L112 270.6L110.4 269Z" fill="#2f5f9f" stroke="#2f5f9f" stroke-width="0.5"/>
<path d="M119.3 272.9L120.9 274.5L119.3 276.1L117.7 274.5Z" fill="#2f5f9f" stroke="#2f5f9f" stroke-width="0.5"/>
<path d="M129.3 279.4L130.9 281L129.3 282.6L127.7 281Z" fill="#2f5f9f" stroke="#2f5f9f" stroke-width="0.5"/>
<path d="M179.1 270.6L180.7 272.2L179.1 273.8L177.5 272.2Z" fill="#2f5f9f" stroke="#2f5f9f" stroke-width="0.5"/>
<path d="M179.8 244.7L181.4 246.3L179.8 247.9L178.2 246.3Z" fill="#2f5f9f" stroke="#2f5f9f" stroke-width="0.5"/>
<path d="M189 250.4L190.6 252L189 253.6L187.4 252Z" fill="#2f5f9f" stroke="#2f5f9f" stroke-width="0.5"/>
<path d="M199.5 255.3L201.1 256.9L199.5 258.5L197.9 256.9Z" fill="#2f5f9f" stroke="#2f5f9f" stroke-width="0.5"/>
<path d="M249.6 271.2L251.2 272.8L249.6 274.4L248 272.8Z" fill="#2f5f9f" stroke="#2f5f9f" stroke-width="0.5"/>
<line x1="300.7" y1="251.9" x2="300.7" y2="253.4" stroke="#4cb84a" stroke-width="0.8"/>
<line x1="298.7" y1="251.9" x2="302.7" y2="251.9" stroke="#4cb84a" stroke-width="0.8"/>
<line x1="318.9" y1="264.5" x2="318.9" y2="267.7" stroke="#4cb84a" stroke-width="0.8"/>
<line x1="316.9" y1="264.5" x2="320.9" y2="264.5" stroke="#4cb84a" stroke-width="0.8"/>
<line x1="308.7" y1="269.3" x2="308.7" y2="279.6" stroke="#c9283f" stroke-width="0.8"/>
<line x1="306.7" y1="269.3" x2="310.7" y2="269.3" stroke="#c9283f" stroke-width="0.8"/>
<line x1="318.9" y1="268.5" x2="318.9" y2="278" stroke="#c9283f" stroke-width="0.8"/>
<line x1="316.9" y1="268.5" x2="320.9" y2="268.5" stroke="#c9283f" stroke-width="0.8"/>
<line x1="349.1" y1="270.5" x2="349.1" y2="275.1" stroke="#c9283f" stroke-width="0.8"/>
<line x1="347.1" y1="270.5" x2="351.1" y2="270.5" stroke="#c9283f" stroke-width="0.8"/>
<line x1="369.5" y1="276.7" x2="369.5" y2="279.1" stroke="#c9283f" stroke-width="0.8"/>
<line x1="367.5" y1="276.7" x2="371.5" y2="276.7" stroke="#c9283f" stroke-width="0.8"/>
<line x1="371.2" y1="225" x2="371.2" y2="271.4" stroke="#4cb84a" stroke-width="0.8"/>
<line x1="369.2" y1="225" x2="373.2" y2="225" stroke="#4cb84a" stroke-width="0.8"/>
<line x1="379.2" y1="242" x2="379.2" y2="244.6" stroke="#4cb84a" stroke-width="0.8"/>
<line x1="377.2" y1="242" x2="381.2" y2="242" stroke="#4cb84a" stroke-width="0.8"/>
<line x1="379.2" y1="260.6" x2="379.2" y2="268.3" stroke="#c9283f" stroke-width="0.8"/>
<line x1="377.2" y1="260.6" x2="381.2" y2="260.6" stroke="#c9283f" stroke-width="0.8"/>
<line x1="388.9" y1="246.7" x2="388.9" y2="248.9" stroke="#4cb84a" stroke-width="0.8"/>
<line x1="386.9" y1="246.7" x2="390.9" y2="246.7" stroke="#4cb84a" stroke-width="0.8"/>
<line x1="388.9" y1="254.4" x2="388.9" y2="261.2" stroke="#c9283f" stroke-width="0.8"/>
<line x1="386.9" y1="254.4" x2="390.9" y2="254.4" stroke="#c9283f" stroke-width="0.8"/>
<line x1="440" y1="262.5" x2="440" y2="267" stroke="#c9283f" stroke-width="0.8"/>
<line x1="438" y1="262.5" x2="442" y2="262.5" stroke="#c9283f" stroke-width="0.8"/>
<line x1="449.6" y1="255" x2="449.6" y2="259" stroke="#c9283f" stroke-width="0.8"/>
<line x1="447.6" y1="255" x2="451.6" y2="255" stroke="#c9283f" stroke-width="0.8"/>
<line x1="458.9" y1="238" x2="458.9" y2="241.5" stroke="#4cb84a" stroke-width="0.8"/>
<line x1="456.9" y1="238" x2="460.9" y2="238" stroke="#4cb84a" stroke-width="0.8"/>
<line x1="458.9" y1="253" x2="458.9" y2="256" stroke="#c9283f" stroke-width="0.8"/>
<line x1="456.9" y1="253" x2="460.9" y2="253" stroke="#c9283f" stroke-width="0.8"/>
<line x1="509.2" y1="252.9" x2="509.2" y2="260.6" stroke="#4cb84a" stroke-width="0.8"/>
<line x1="507.2" y1="252.9" x2="511.2" y2="252.9" stroke="#4cb84a" stroke-width="0.8"/>
<line x1="509.2" y1="256.5" x2="509.2" y2="261.2" stroke="#c9283f" stroke-width="0.8"/>
<line x1="507.2" y1="256.5" x2="511.2" y2="256.5" stroke="#c9283f" stroke-width="0.8"/>
<path d="M299.6 293 L308.7 279.6 L318.9 278 L349.1 275.1 L369.2 280.7 L369.8 278.5 L379.2 268.3 L388.7 261.2 L438.2 268.3 L440.3 266.8 L449.6 259 L458.9 256 L509.2 261.2" fill="none" stroke="#c9283f" stroke-width="0.9"/>
<circle cx="299.6" cy="293" r="1.2" fill="none" stroke="#c9283f" stroke-width="0.7"/>
<circle cx="308.7" cy="279.6" r="1.2" fill="none" stroke="#c9283f" stroke-width="0.7"/>
<circle cx="318.9" cy="278" r="1.2" fill="none" stroke="#c9283f" stroke-width="0.7"/>
<circle cx="349.1" cy="275.1" r="1.2" fill="none" stroke="#c9283f" stroke-width="0.7"/>
<circle cx="369.2" cy="280.7" r="1.2" fill="none" stroke="#c9283f" stroke-width="0.7"/>
<circle cx="369.8" cy="278.5" r="1.2" fill="none" stroke="#c9283f" stroke-width="0.7"/>
<circle cx="379.2" cy="268.3" r="1.2" fill="none" stroke="#c9283f" stroke-width="0.7"/>
<circle cx="388.7" cy="261.2" r="1.2" fill="none" stroke="#c9283f" stroke-width="0.7"/>
<circle cx="438.2" cy="268.3" r="1.2" fill="none" stroke="#c9283f" stroke-width="0.7"/>
<circle cx="440.3" cy="266.8" r="1.2" fill="none" stroke="#c9283f" stroke-width="0.7"/>
<circle cx="449.6" cy="259" r="1.2" fill="none" stroke="#c9283f" stroke-width="0.7"/>
<circle cx="458.9" cy="256" r="1.2" fill="none" stroke="#c9283f" stroke-width="0.7"/>
<circle cx="509.2" cy="261.2" r="1.2" fill="none" stroke="#c9283f" stroke-width="0.7"/>
<path d="M299.6 252.9 L301.8 253.8 L308.7 260.3 L318.9 267.7 L369.2 286.9 L371.2 234.3 L371 239.9 L379.2 244.5 L388.7 248.9 L438.2 268.3 L439.7 232.8 L441 233.5 L449.6 235.9 L458.9 241.5 L509.2 260.6" fill="none" stroke="#4cb84a" stroke-width="0.9"/>
<circle cx="299.6" cy="252.9" r="1.3" fill="none" stroke="#4cb84a" stroke-width="0.7"/>
<circle cx="301.8" cy="253.8" r="1.3" fill="none" stroke="#4cb84a" stroke-width="0.7"/>
<circle cx="308.7" cy="260.3" r="1.3" fill="none" stroke="#4cb84a" stroke-width="0.7"/>
<circle cx="318.9" cy="267.7" r="1.3" fill="none" stroke="#4cb84a" stroke-width="0.7"/>
<circle cx="369.2" cy="286.9" r="1.3" fill="none" stroke="#4cb84a" stroke-width="0.7"/>
<circle cx="371.2" cy="234.3" r="1.3" fill="none" stroke="#4cb84a" stroke-width="0.7"/>
<circle cx="371" cy="239.9" r="1.3" fill="none" stroke="#4cb84a" stroke-width="0.7"/>
<circle cx="379.2" cy="244.5" r="1.3" fill="none" stroke="#4cb84a" stroke-width="0.7"/>
<circle cx="388.7" cy="248.9" r="1.3" fill="none" stroke="#4cb84a" stroke-width="0.7"/>
<circle cx="438.2" cy="268.3" r="1.3" fill="none" stroke="#4cb84a" stroke-width="0.7"/>
<circle cx="439.7" cy="232.8" r="1.3" fill="none" stroke="#4cb84a" stroke-width="0.7"/>
<circle cx="441" cy="233.5" r="1.3" fill="none" stroke="#4cb84a" stroke-width="0.7"/>
<circle cx="449.6" cy="235.9" r="1.3" fill="none" stroke="#4cb84a" stroke-width="0.7"/>
<circle cx="458.9" cy="241.5" r="1.3" fill="none" stroke="#4cb84a" stroke-width="0.7"/>
<circle cx="509.2" cy="260.6" r="1.3" fill="none" stroke="#4cb84a" stroke-width="0.7"/>
<line x1="63.5" y1="167.5" x2="76" y2="167.5" stroke="#8ccf8a" stroke-width="0.8"/>
<circle cx="69.75" cy="167.5" r="1.5" fill="none" stroke="#8ccf8a" stroke-width="0.7"/>
<text x="79.3" y="169.5" font-size="6.0" fill="#2a2a2a" textLength="34.5" lengthAdjust="spacingAndGlyphs">0.5 mg Q3W</text>
<line x1="121.9" y1="167.5" x2="134.4" y2="167.5" stroke="#6cbf6a" stroke-width="0.8" stroke-dasharray="1.5 1"/>
<rect x="126.65" y="166" width="3" height="3" fill="none" stroke="#6cbf6a" stroke-width="0.7"/>
<text x="137.7" y="169.5" font-size="6.0" fill="#2a2a2a" textLength="34" lengthAdjust="spacingAndGlyphs">1.0 mg Q3W</text>
<line x1="176.9" y1="167.5" x2="189.4" y2="167.5" stroke="#3d6b5c" stroke-width="0.8" stroke-dasharray="1.5 1"/>
<polygon points="183.15,165.4 183.63,167.02 185.25,167.5 183.63,167.98 183.15,169.6 182.67,167.98 181.05,167.5 182.67,167.02" fill="#1f5e48" stroke="#1f5e48" stroke-width="0.4"/>
<text x="192.7" y="169.5" font-size="6.0" fill="#2a2a2a" textLength="34.3" lengthAdjust="spacingAndGlyphs">4.0 mg Q3W</text>
<line x1="63.5" y1="176.7" x2="76" y2="176.7" stroke="#d6e4cf" stroke-width="0.8"/>
<path d="M69.75 175.2L71.25 177.9L68.25 177.9Z" fill="none" stroke="#d6e4cf" stroke-width="0.7"/>
<text x="79.3" y="178.7" font-size="6.0" fill="#2a2a2a" textLength="37.3" lengthAdjust="spacingAndGlyphs">0.15 mg Q3W</text>
<line x1="121.9" y1="176.7" x2="134.4" y2="176.7" stroke="#a9a9a9" stroke-width="0.8"/>
<circle cx="128.15" cy="176.7" r="1.5" fill="none" stroke="#a9a9a9" stroke-width="0.7"/>
<text x="137.7" y="178.7" font-size="6.0" fill="#2a2a2a" textLength="34.4" lengthAdjust="spacingAndGlyphs">2.0 mg Q3W</text>
<line x1="322.3" y1="167.5" x2="334.8" y2="167.5" stroke="#cfcfcf" stroke-width="0.8"/>
<circle cx="328.55" cy="167.5" r="1.5" fill="#cfcfcf" stroke="#cfcfcf" stroke-width="0.5"/>
<text x="338.1" y="169.5" font-size="6.0" fill="#2a2a2a" textLength="35" lengthAdjust="spacingAndGlyphs">1/3 mg Q3W</text>
<line x1="377.3" y1="167.5" x2="389.8" y2="167.5" stroke="#a0a0a0" stroke-width="0.8" stroke-dasharray="1.3 0.8"/>
<circle cx="383.55" cy="167.5" r="1.5" fill="#8c8c8c" stroke="#8c8c8c" stroke-width="0.5"/>
<text x="393.1" y="169.5" font-size="6.0" fill="#2a2a2a" textLength="34" lengthAdjust="spacingAndGlyphs">1/6 mg Q3W</text>
<line x1="432.9" y1="167.5" x2="445.4" y2="167.5" stroke="#6e6e6e" stroke-width="0.8" stroke-dasharray="1.5 1"/>
<circle cx="439.15" cy="167.5" r="1.5" fill="none" stroke="#6e6e6e" stroke-width="0.7"/>
<text x="448.7" y="169.5" font-size="6.0" fill="#2a2a2a" textLength="38.8" lengthAdjust="spacingAndGlyphs">2/12 mg Q3W</text>
<line x1="50.5" y1="359.8" x2="63" y2="359.8" stroke="#b8cde6" stroke-width="0.8"/>
<circle cx="56.75" cy="359.8" r="1.5" fill="#b8cde6" stroke="#b8cde6" stroke-width="0.5"/>
<text x="66.3" y="361.8" font-size="6.0" fill="#2a2a2a" textLength="41.4" lengthAdjust="spacingAndGlyphs">1/3/6 mg Q3W</text>
<line x1="118.3" y1="359.8" x2="130.8" y2="359.8" stroke="#3a6aa8" stroke-width="0.8" stroke-dasharray="1.5 1"/>
<path d="M124.55 358L126.35 359.8L124.55 361.6L122.75 359.8Z" fill="#3a6aa8" stroke="#3a6aa8" stroke-width="0.5"/>
<text x="134.1" y="361.8" font-size="6.0" fill="#2a2a2a" textLength="44.6" lengthAdjust="spacingAndGlyphs">1/3/18 mg Q3W</text>
<line x1="185.6" y1="359.8" x2="198.1" y2="359.8" stroke="#f0b44c" stroke-width="0.8"/>
<path d="M190.35 359.8H193.35M191.85 358.3V361.3" stroke="#f0b44c" stroke-width="0.8"/>
<text x="201.4" y="361.8" font-size="6.0" fill="#2a2a2a" textLength="36.9" lengthAdjust="spacingAndGlyphs">1/3/9 mg QW</text>
<line x1="50.5" y1="369.3" x2="63" y2="369.3" stroke="#a8a8b8" stroke-width="0.8"/>
<circle cx="56.75" cy="369.3" r="1.5" fill="none" stroke="#a8a8b8" stroke-width="0.7"/>
<text x="66.3" y="371.3" font-size="6.0" fill="#2a2a2a" textLength="44.6" lengthAdjust="spacingAndGlyphs">1/3/12 mg Q3W</text>
<line x1="118.3" y1="369.3" x2="130.8" y2="369.3" stroke="#49a6cc" stroke-width="0.8" stroke-dasharray="1.5 1"/>
<path d="M124.55 367.5L126.35 369.3L124.55 371.1L122.75 369.3Z" fill="#49a6cc" stroke="#49a6cc" stroke-width="0.5"/>
<text x="134.1" y="371.3" font-size="6.0" fill="#2a2a2a" textLength="44.6" lengthAdjust="spacingAndGlyphs">1/6/12 mg Q3W</text>
<line x1="336.3" y1="356.5" x2="348.8" y2="356.5" stroke="#5cbf5a" stroke-width="0.8"/>
<circle cx="342.55" cy="356.5" r="1.5" fill="none" stroke="#5cbf5a" stroke-width="0.7"/>
<text x="352.1" y="358.5" font-size="6.0" fill="#2a2a2a" textLength="46.8" lengthAdjust="spacingAndGlyphs">1/3/6 mg IV Q3W</text>
<line x1="405.9" y1="356.5" x2="418.4" y2="356.5" stroke="#c9304a" stroke-width="0.8"/>
<circle cx="412.15" cy="356.5" r="1.5" fill="none" stroke="#c9304a" stroke-width="0.7"/>
<text x="421.7" y="358.5" font-size="6.0" fill="#2a2a2a" textLength="50.3" lengthAdjust="spacingAndGlyphs">1/3/6 mg SC Q3W</text>
<rect x="0.5" y="0.5" width="519" height="378" fill="none" stroke="#626262" stroke-width="1"/>
</svg>
</body></html>
